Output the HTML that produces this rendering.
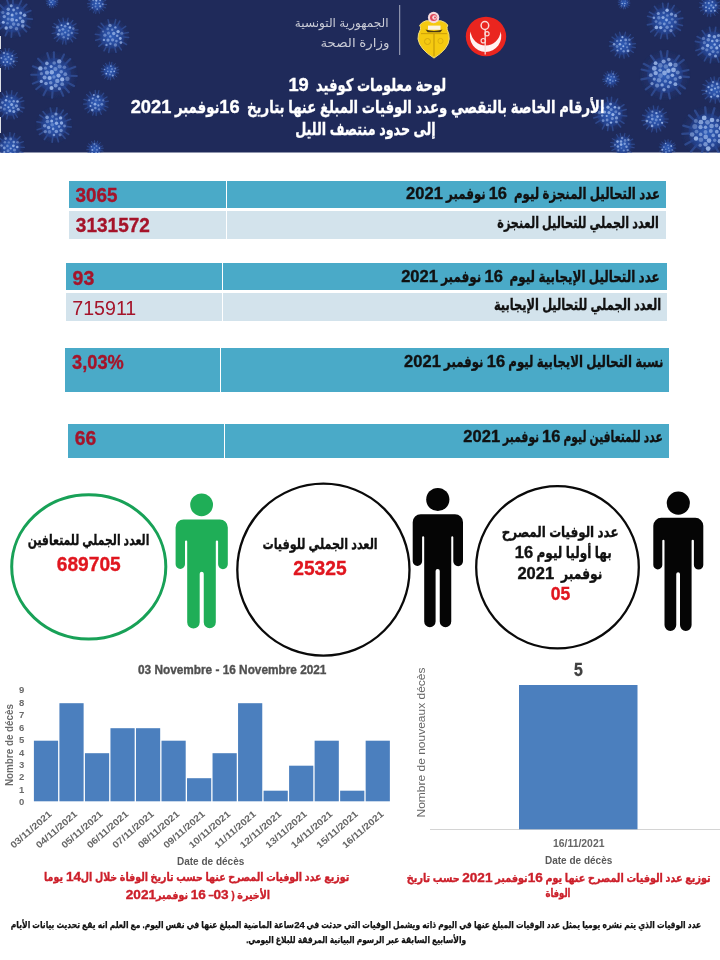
<!DOCTYPE html>
<html lang="ar">
<head>
<meta charset="utf-8">
<title>لوحة معلومات كوفيد 19</title>
<style>
html,body{margin:0;padding:0;background:#fff;}
body{width:720px;height:960px;position:relative;overflow:hidden;font-family:"Liberation Sans","DejaVu Sans",sans-serif;}
.t{position:absolute;white-space:pre;line-height:24px;height:24px;transform-origin:100% 50%;font-family:"Liberation Sans","DejaVu Sans",sans-serif;}
.d{display:inline-block;text-align:center;transform-origin:50% 50%;}
.s{-webkit-text-stroke:0.35px currentColor;}
.s2{-webkit-text-stroke:0.25px currentColor;}
.b{position:absolute;}
svg{position:absolute;left:0;top:0;}
</style>
</head>
<body>
<svg width="720" height="153" viewBox="0 0 720 153" style="top:0;left:0">
<defs>
<radialGradient id="vg"><stop offset="0" stop-color="#2a4fa3" stop-opacity=".5"/><stop offset=".6" stop-color="#27489a" stop-opacity=".3"/><stop offset="1" stop-color="#24448e" stop-opacity="0"/></radialGradient>
<radialGradient id="vb"><stop offset="0" stop-color="#3362be" stop-opacity=".9"/><stop offset=".65" stop-color="#2a50a6" stop-opacity=".85"/><stop offset="1" stop-color="#233f8a" stop-opacity=".55"/></radialGradient>
<filter id="bl" x="-5%" y="-5%" width="110%" height="110%"><feGaussianBlur stdDeviation="0.7"/></filter>
<clipPath id="hc"><rect x="0" y="0" width="720" height="152.5"/></clipPath>
</defs>
<rect x="0" y="0" width="720" height="152.5" fill="#1f2a5a"/>
<g clip-path="url(#hc)"><g filter="url(#bl)">
<circle cx="13.0" cy="18.0" r="20.8" fill="url(#vg)"/>
<line x1="7.9" y1="29.8" x2="5.4" y2="35.6" stroke="#3a5fb0" stroke-width="1.8" stroke-linecap="round" opacity=".55"/>
<line x1="3.1" y1="26.2" x2="-1.8" y2="30.2" stroke="#3a5fb0" stroke-width="1.8" stroke-linecap="round" opacity=".55"/>
<line x1="1.2" y1="22.9" x2="-4.8" y2="25.3" stroke="#3a5fb0" stroke-width="1.8" stroke-linecap="round" opacity=".55"/>
<line x1="0.2" y1="17.0" x2="-6.1" y2="16.5" stroke="#3a5fb0" stroke-width="1.8" stroke-linecap="round" opacity=".55"/>
<line x1="1.4" y1="12.5" x2="-4.4" y2="9.8" stroke="#3a5fb0" stroke-width="1.8" stroke-linecap="round" opacity=".55"/>
<line x1="3.9" y1="9.0" x2="-0.6" y2="4.4" stroke="#3a5fb0" stroke-width="1.8" stroke-linecap="round" opacity=".55"/>
<line x1="9.0" y1="5.9" x2="6.9" y2="-0.2" stroke="#3a5fb0" stroke-width="1.8" stroke-linecap="round" opacity=".55"/>
<line x1="13.0" y1="5.2" x2="12.9" y2="-1.2" stroke="#3a5fb0" stroke-width="1.8" stroke-linecap="round" opacity=".55"/>
<line x1="18.6" y1="6.5" x2="21.4" y2="0.7" stroke="#3a5fb0" stroke-width="1.8" stroke-linecap="round" opacity=".55"/>
<line x1="22.1" y1="9.0" x2="26.6" y2="4.4" stroke="#3a5fb0" stroke-width="1.8" stroke-linecap="round" opacity=".55"/>
<line x1="24.8" y1="13.2" x2="30.8" y2="10.7" stroke="#3a5fb0" stroke-width="1.8" stroke-linecap="round" opacity=".55"/>
<line x1="25.8" y1="18.7" x2="32.2" y2="19.1" stroke="#3a5fb0" stroke-width="1.8" stroke-linecap="round" opacity=".55"/>
<line x1="24.1" y1="24.3" x2="29.7" y2="27.5" stroke="#3a5fb0" stroke-width="1.8" stroke-linecap="round" opacity=".55"/>
<line x1="22.0" y1="27.1" x2="26.4" y2="31.7" stroke="#3a5fb0" stroke-width="1.8" stroke-linecap="round" opacity=".55"/>
<line x1="17.6" y1="29.9" x2="19.9" y2="35.9" stroke="#3a5fb0" stroke-width="1.8" stroke-linecap="round" opacity=".55"/>
<line x1="11.8" y1="30.7" x2="11.3" y2="37.1" stroke="#3a5fb0" stroke-width="1.8" stroke-linecap="round" opacity=".55"/>
<circle cx="13.0" cy="18.0" r="14.4" fill="url(#vb)"/>
<circle cx="12.2" cy="19.7" r="1.9" fill="#a3bdec" opacity="0.69"/>
<circle cx="12.1" cy="14.9" r="1.5" fill="#a3bdec" opacity="0.89"/>
<circle cx="16.5" cy="20.2" r="1.3" fill="#a3bdec" opacity="0.83"/>
<circle cx="8.2" cy="18.9" r="1.5" fill="#a3bdec" opacity="0.47"/>
<circle cx="16.3" cy="13.5" r="1.3" fill="#a3bdec" opacity="0.55"/>
<circle cx="13.6" cy="24.1" r="1.8" fill="#a3bdec" opacity="0.49"/>
<circle cx="8.0" cy="13.6" r="1.7" fill="#a3bdec" opacity="0.72"/>
<circle cx="20.2" cy="17.9" r="1.5" fill="#a3bdec" opacity="0.67"/>
<circle cx="7.5" cy="23.2" r="1.3" fill="#a3bdec" opacity="0.43"/>
<circle cx="13.6" cy="10.0" r="1.4" fill="#a3bdec" opacity="0.74"/>
<circle cx="18.3" cy="24.6" r="1.6" fill="#a3bdec" opacity="0.56"/>
<circle cx="4.3" cy="16.6" r="1.7" fill="#a3bdec" opacity="0.63"/>
<circle cx="20.7" cy="12.9" r="1.5" fill="#a3bdec" opacity="0.80"/>
<circle cx="10.7" cy="27.3" r="1.8" fill="#a3bdec" opacity="0.52"/>
<circle cx="8.3" cy="9.2" r="1.7" fill="#a3bdec" opacity="0.66"/>
<circle cx="22.7" cy="21.4" r="1.9" fill="#a3bdec" opacity="0.76"/>
<circle cx="3.3" cy="22.2" r="1.5" fill="#a3bdec" opacity="0.89"/>
<circle cx="17.5" cy="8.0" r="1.3" fill="#a3bdec" opacity="0.61"/>
<circle cx="16.5" cy="28.7" r="1.8" fill="#a3bdec" opacity="0.48"/>
<circle cx="2.9" cy="12.4" r="1.6" fill="#a3bdec" opacity="0.42"/>
<circle cx="24.5" cy="15.3" r="1.7" fill="#a3bdec" opacity="0.78"/>
<circle cx="6.2" cy="28.0" r="1.7" fill="#a3bdec" opacity="0.84"/>
<circle cx="11.2" cy="5.7" r="1.5" fill="#a3bdec" opacity="0.75"/>
<circle cx="22.8" cy="26.0" r="1.7" fill="#a3bdec" opacity="0.69"/>
<circle cx="65.0" cy="31.0" r="14.3" fill="url(#vg)"/>
<line x1="65.6" y1="39.8" x2="66.0" y2="44.2" stroke="#3a5fb0" stroke-width="1.2" stroke-linecap="round" opacity=".55"/>
<line x1="63.4" y1="39.6" x2="62.6" y2="44.0" stroke="#3a5fb0" stroke-width="1.2" stroke-linecap="round" opacity=".55"/>
<line x1="59.5" y1="37.9" x2="56.8" y2="41.3" stroke="#3a5fb0" stroke-width="1.2" stroke-linecap="round" opacity=".55"/>
<line x1="57.8" y1="36.0" x2="54.2" y2="38.5" stroke="#3a5fb0" stroke-width="1.2" stroke-linecap="round" opacity=".55"/>
<line x1="56.4" y1="32.6" x2="52.0" y2="33.5" stroke="#3a5fb0" stroke-width="1.2" stroke-linecap="round" opacity=".55"/>
<line x1="56.7" y1="28.2" x2="52.5" y2="26.8" stroke="#3a5fb0" stroke-width="1.2" stroke-linecap="round" opacity=".55"/>
<line x1="57.7" y1="26.1" x2="54.0" y2="23.6" stroke="#3a5fb0" stroke-width="1.2" stroke-linecap="round" opacity=".55"/>
<line x1="60.6" y1="23.4" x2="58.5" y2="19.5" stroke="#3a5fb0" stroke-width="1.2" stroke-linecap="round" opacity=".55"/>
<line x1="63.7" y1="22.3" x2="63.0" y2="18.0" stroke="#3a5fb0" stroke-width="1.2" stroke-linecap="round" opacity=".55"/>
<line x1="67.1" y1="22.4" x2="68.1" y2="18.2" stroke="#3a5fb0" stroke-width="1.2" stroke-linecap="round" opacity=".55"/>
<line x1="70.2" y1="23.9" x2="72.9" y2="20.4" stroke="#3a5fb0" stroke-width="1.2" stroke-linecap="round" opacity=".55"/>
<line x1="72.3" y1="26.1" x2="76.0" y2="23.7" stroke="#3a5fb0" stroke-width="1.2" stroke-linecap="round" opacity=".55"/>
<line x1="73.8" y1="30.2" x2="78.1" y2="29.8" stroke="#3a5fb0" stroke-width="1.2" stroke-linecap="round" opacity=".55"/>
<line x1="73.7" y1="32.6" x2="78.0" y2="33.4" stroke="#3a5fb0" stroke-width="1.2" stroke-linecap="round" opacity=".55"/>
<line x1="72.3" y1="35.9" x2="75.9" y2="38.4" stroke="#3a5fb0" stroke-width="1.2" stroke-linecap="round" opacity=".55"/>
<line x1="70.1" y1="38.2" x2="72.6" y2="41.8" stroke="#3a5fb0" stroke-width="1.2" stroke-linecap="round" opacity=".55"/>
<circle cx="65.0" cy="31.0" r="9.9" fill="url(#vb)"/>
<circle cx="65.2" cy="32.5" r="1.1" fill="#a3bdec" opacity="0.60"/>
<circle cx="62.9" cy="29.3" r="1.4" fill="#a3bdec" opacity="0.59"/>
<circle cx="68.5" cy="30.8" r="1.0" fill="#a3bdec" opacity="0.53"/>
<circle cx="62.1" cy="34.0" r="1.5" fill="#a3bdec" opacity="0.43"/>
<circle cx="65.1" cy="26.3" r="1.3" fill="#a3bdec" opacity="0.59"/>
<circle cx="68.4" cy="34.9" r="1.3" fill="#a3bdec" opacity="0.57"/>
<circle cx="59.4" cy="30.4" r="1.3" fill="#a3bdec" opacity="0.65"/>
<circle cx="69.9" cy="27.5" r="1.3" fill="#a3bdec" opacity="0.85"/>
<circle cx="63.7" cy="37.3" r="1.2" fill="#a3bdec" opacity="0.47"/>
<circle cx="61.5" cy="25.2" r="1.0" fill="#a3bdec" opacity="0.87"/>
<circle cx="71.8" cy="33.0" r="1.2" fill="#a3bdec" opacity="0.50"/>
<circle cx="58.3" cy="34.3" r="1.4" fill="#a3bdec" opacity="0.69"/>
<circle cx="67.9" cy="23.8" r="1.3" fill="#a3bdec" opacity="0.84"/>
<circle cx="67.9" cy="38.6" r="1.1" fill="#a3bdec" opacity="0.58"/>
<circle cx="57.5" cy="27.2" r="1.4" fill="#a3bdec" opacity="0.47"/>
<circle cx="73.3" cy="28.6" r="1.3" fill="#a3bdec" opacity="0.45"/>
<circle cx="112.0" cy="36.0" r="18.2" fill="url(#vg)"/>
<line x1="101.2" y1="38.8" x2="95.7" y2="40.2" stroke="#3a5fb0" stroke-width="1.5" stroke-linecap="round" opacity=".55"/>
<line x1="100.9" y1="34.9" x2="95.3" y2="34.3" stroke="#3a5fb0" stroke-width="1.5" stroke-linecap="round" opacity=".55"/>
<line x1="102.8" y1="29.6" x2="98.2" y2="26.4" stroke="#3a5fb0" stroke-width="1.5" stroke-linecap="round" opacity=".55"/>
<line x1="104.7" y1="27.5" x2="101.1" y2="23.2" stroke="#3a5fb0" stroke-width="1.5" stroke-linecap="round" opacity=".55"/>
<line x1="109.4" y1="25.1" x2="108.1" y2="19.7" stroke="#3a5fb0" stroke-width="1.5" stroke-linecap="round" opacity=".55"/>
<line x1="114.5" y1="25.1" x2="115.7" y2="19.6" stroke="#3a5fb0" stroke-width="1.5" stroke-linecap="round" opacity=".55"/>
<line x1="117.2" y1="26.1" x2="119.8" y2="21.1" stroke="#3a5fb0" stroke-width="1.5" stroke-linecap="round" opacity=".55"/>
<line x1="121.1" y1="29.5" x2="125.7" y2="26.3" stroke="#3a5fb0" stroke-width="1.5" stroke-linecap="round" opacity=".55"/>
<line x1="122.9" y1="33.6" x2="128.4" y2="32.4" stroke="#3a5fb0" stroke-width="1.5" stroke-linecap="round" opacity=".55"/>
<line x1="123.2" y1="37.0" x2="128.7" y2="37.4" stroke="#3a5fb0" stroke-width="1.5" stroke-linecap="round" opacity=".55"/>
<line x1="121.7" y1="41.7" x2="126.5" y2="44.5" stroke="#3a5fb0" stroke-width="1.5" stroke-linecap="round" opacity=".55"/>
<line x1="118.3" y1="45.3" x2="121.4" y2="49.9" stroke="#3a5fb0" stroke-width="1.5" stroke-linecap="round" opacity=".55"/>
<line x1="114.7" y1="46.9" x2="116.0" y2="52.3" stroke="#3a5fb0" stroke-width="1.5" stroke-linecap="round" opacity=".55"/>
<line x1="109.8" y1="47.0" x2="108.7" y2="52.5" stroke="#3a5fb0" stroke-width="1.5" stroke-linecap="round" opacity=".55"/>
<line x1="106.7" y1="45.8" x2="104.0" y2="50.8" stroke="#3a5fb0" stroke-width="1.5" stroke-linecap="round" opacity=".55"/>
<line x1="103.2" y1="42.9" x2="98.8" y2="46.4" stroke="#3a5fb0" stroke-width="1.5" stroke-linecap="round" opacity=".55"/>
<circle cx="112.0" cy="36.0" r="12.6" fill="url(#vb)"/>
<circle cx="110.3" cy="36.4" r="1.2" fill="#a3bdec" opacity="0.65"/>
<circle cx="113.7" cy="33.5" r="1.7" fill="#a3bdec" opacity="0.70"/>
<circle cx="112.6" cy="39.8" r="1.6" fill="#a3bdec" opacity="0.59"/>
<circle cx="108.5" cy="33.1" r="1.6" fill="#a3bdec" opacity="0.45"/>
<circle cx="117.2" cy="35.7" r="1.3" fill="#a3bdec" opacity="0.74"/>
<circle cx="108.0" cy="40.1" r="1.6" fill="#a3bdec" opacity="0.61"/>
<circle cx="112.2" cy="29.8" r="1.2" fill="#a3bdec" opacity="0.53"/>
<circle cx="116.4" cy="41.1" r="1.3" fill="#a3bdec" opacity="0.54"/>
<circle cx="104.9" cy="35.2" r="1.6" fill="#a3bdec" opacity="0.50"/>
<circle cx="118.1" cy="31.6" r="1.7" fill="#a3bdec" opacity="0.84"/>
<circle cx="110.4" cy="43.8" r="1.2" fill="#a3bdec" opacity="0.59"/>
<circle cx="107.8" cy="28.9" r="1.4" fill="#a3bdec" opacity="0.41"/>
<circle cx="120.3" cy="38.5" r="1.4" fill="#a3bdec" opacity="0.85"/>
<circle cx="103.9" cy="39.9" r="1.2" fill="#a3bdec" opacity="0.70"/>
<circle cx="115.4" cy="27.4" r="1.2" fill="#a3bdec" opacity="0.69"/>
<circle cx="115.4" cy="45.0" r="1.7" fill="#a3bdec" opacity="0.50"/>
<circle cx="103.1" cy="31.5" r="1.1" fill="#a3bdec" opacity="0.44"/>
<circle cx="121.8" cy="33.2" r="1.5" fill="#a3bdec" opacity="0.41"/>
<circle cx="106.5" cy="44.9" r="1.2" fill="#a3bdec" opacity="0.65"/>
<circle cx="110.0" cy="25.4" r="1.7" fill="#a3bdec" opacity="0.61"/>
<circle cx="120.9" cy="42.6" r="1.4" fill="#a3bdec" opacity="0.72"/>
<circle cx="97.0" cy="4.0" r="10.4" fill="url(#vg)"/>
<line x1="91.2" y1="1.3" x2="88.3" y2="-0.0" stroke="#3a5fb0" stroke-width="1.0" stroke-linecap="round" opacity=".55"/>
<line x1="92.8" y1="-0.8" x2="90.7" y2="-3.2" stroke="#3a5fb0" stroke-width="1.0" stroke-linecap="round" opacity=".55"/>
<line x1="94.6" y1="-1.9" x2="93.4" y2="-4.9" stroke="#3a5fb0" stroke-width="1.0" stroke-linecap="round" opacity=".55"/>
<line x1="97.7" y1="-2.4" x2="98.0" y2="-5.5" stroke="#3a5fb0" stroke-width="1.0" stroke-linecap="round" opacity=".55"/>
<line x1="100.1" y1="-1.6" x2="101.6" y2="-4.4" stroke="#3a5fb0" stroke-width="1.0" stroke-linecap="round" opacity=".55"/>
<line x1="101.9" y1="-0.2" x2="104.3" y2="-2.2" stroke="#3a5fb0" stroke-width="1.0" stroke-linecap="round" opacity=".55"/>
<line x1="102.9" y1="1.5" x2="105.9" y2="0.3" stroke="#3a5fb0" stroke-width="1.0" stroke-linecap="round" opacity=".55"/>
<line x1="103.4" y1="4.4" x2="106.6" y2="4.6" stroke="#3a5fb0" stroke-width="1.0" stroke-linecap="round" opacity=".55"/>
<line x1="102.8" y1="6.6" x2="105.8" y2="7.9" stroke="#3a5fb0" stroke-width="1.0" stroke-linecap="round" opacity=".55"/>
<line x1="101.5" y1="8.6" x2="103.7" y2="10.9" stroke="#3a5fb0" stroke-width="1.0" stroke-linecap="round" opacity=".55"/>
<line x1="98.7" y1="10.2" x2="99.5" y2="13.3" stroke="#3a5fb0" stroke-width="1.0" stroke-linecap="round" opacity=".55"/>
<line x1="96.1" y1="10.3" x2="95.7" y2="13.5" stroke="#3a5fb0" stroke-width="1.0" stroke-linecap="round" opacity=".55"/>
<line x1="94.7" y1="10.0" x2="93.5" y2="12.9" stroke="#3a5fb0" stroke-width="1.0" stroke-linecap="round" opacity=".55"/>
<line x1="92.0" y1="8.0" x2="89.5" y2="10.0" stroke="#3a5fb0" stroke-width="1.0" stroke-linecap="round" opacity=".55"/>
<line x1="90.9" y1="6.0" x2="87.9" y2="7.0" stroke="#3a5fb0" stroke-width="1.0" stroke-linecap="round" opacity=".55"/>
<line x1="90.6" y1="3.8" x2="87.4" y2="3.7" stroke="#3a5fb0" stroke-width="1.0" stroke-linecap="round" opacity=".55"/>
<circle cx="97.0" cy="4.0" r="7.2" fill="url(#vb)"/>
<circle cx="95.8" cy="3.4" r="0.9" fill="#a3bdec" opacity="0.74"/>
<circle cx="99.2" cy="3.3" r="0.9" fill="#a3bdec" opacity="0.74"/>
<circle cx="95.5" cy="6.5" r="1.0" fill="#a3bdec" opacity="0.47"/>
<circle cx="96.3" cy="0.6" r="1.1" fill="#a3bdec" opacity="0.89"/>
<circle cx="100.2" cy="6.3" r="1.1" fill="#a3bdec" opacity="0.71"/>
<circle cx="92.7" cy="4.5" r="0.8" fill="#a3bdec" opacity="0.40"/>
<circle cx="100.1" cy="0.4" r="0.8" fill="#a3bdec" opacity="0.87"/>
<circle cx="97.2" cy="9.1" r="0.9" fill="#a3bdec" opacity="0.58"/>
<circle cx="93.2" cy="0.1" r="1.1" fill="#a3bdec" opacity="0.56"/>
<circle cx="102.7" cy="4.3" r="1.0" fill="#a3bdec" opacity="0.62"/>
<circle cx="92.4" cy="7.8" r="0.8" fill="#a3bdec" opacity="0.69"/>
<circle cx="97.9" cy="-2.2" r="1.1" fill="#a3bdec" opacity="0.48"/>
<circle cx="52.0" cy="2.0" r="6.5" fill="url(#vg)"/>
<line x1="48.2" y1="3.1" x2="46.3" y2="3.7" stroke="#3a5fb0" stroke-width="1.0" stroke-linecap="round" opacity=".55"/>
<line x1="48.1" y1="1.4" x2="46.1" y2="1.0" stroke="#3a5fb0" stroke-width="1.0" stroke-linecap="round" opacity=".55"/>
<line x1="48.5" y1="0.2" x2="46.7" y2="-0.8" stroke="#3a5fb0" stroke-width="1.0" stroke-linecap="round" opacity=".55"/>
<line x1="49.4" y1="-1.1" x2="48.2" y2="-2.6" stroke="#3a5fb0" stroke-width="1.0" stroke-linecap="round" opacity=".55"/>
<line x1="50.9" y1="-1.8" x2="50.3" y2="-3.8" stroke="#3a5fb0" stroke-width="1.0" stroke-linecap="round" opacity=".55"/>
<line x1="52.2" y1="-2.0" x2="52.2" y2="-4.0" stroke="#3a5fb0" stroke-width="1.0" stroke-linecap="round" opacity=".55"/>
<line x1="53.9" y1="-1.5" x2="54.8" y2="-3.3" stroke="#3a5fb0" stroke-width="1.0" stroke-linecap="round" opacity=".55"/>
<line x1="55.1" y1="-0.5" x2="56.7" y2="-1.7" stroke="#3a5fb0" stroke-width="1.0" stroke-linecap="round" opacity=".55"/>
<line x1="55.9" y1="1.0" x2="57.8" y2="0.5" stroke="#3a5fb0" stroke-width="1.0" stroke-linecap="round" opacity=".55"/>
<line x1="56.0" y1="2.1" x2="58.0" y2="2.2" stroke="#3a5fb0" stroke-width="1.0" stroke-linecap="round" opacity=".55"/>
<line x1="55.6" y1="3.8" x2="57.4" y2="4.6" stroke="#3a5fb0" stroke-width="1.0" stroke-linecap="round" opacity=".55"/>
<line x1="54.8" y1="4.9" x2="56.1" y2="6.4" stroke="#3a5fb0" stroke-width="1.0" stroke-linecap="round" opacity=".55"/>
<line x1="53.0" y1="5.9" x2="53.5" y2="7.8" stroke="#3a5fb0" stroke-width="1.0" stroke-linecap="round" opacity=".55"/>
<line x1="51.5" y1="6.0" x2="51.3" y2="8.0" stroke="#3a5fb0" stroke-width="1.0" stroke-linecap="round" opacity=".55"/>
<line x1="50.4" y1="5.7" x2="49.6" y2="7.5" stroke="#3a5fb0" stroke-width="1.0" stroke-linecap="round" opacity=".55"/>
<line x1="48.7" y1="4.3" x2="47.1" y2="5.5" stroke="#3a5fb0" stroke-width="1.0" stroke-linecap="round" opacity=".55"/>
<circle cx="52.0" cy="2.0" r="4.5" fill="url(#vb)"/>
<circle cx="51.0" cy="2.3" r="0.8" fill="#a3bdec" opacity="0.73"/>
<circle cx="52.9" cy="0.4" r="0.7" fill="#a3bdec" opacity="0.48"/>
<circle cx="52.5" cy="4.3" r="0.6" fill="#a3bdec" opacity="0.66"/>
<circle cx="49.7" cy="0.4" r="0.6" fill="#a3bdec" opacity="0.50"/>
<circle cx="55.2" cy="1.6" r="0.7" fill="#a3bdec" opacity="0.42"/>
<circle cx="49.7" cy="4.7" r="0.7" fill="#a3bdec" opacity="0.62"/>
<circle cx="51.9" cy="-1.9" r="0.8" fill="#a3bdec" opacity="0.66"/>
<circle cx="7.0" cy="59.0" r="11.7" fill="url(#vg)"/>
<line x1="-0.1" y1="60.0" x2="-3.7" y2="60.5" stroke="#3a5fb0" stroke-width="1.0" stroke-linecap="round" opacity=".55"/>
<line x1="0.0" y1="57.2" x2="-3.4" y2="56.2" stroke="#3a5fb0" stroke-width="1.0" stroke-linecap="round" opacity=".55"/>
<line x1="0.9" y1="55.1" x2="-2.1" y2="53.2" stroke="#3a5fb0" stroke-width="1.0" stroke-linecap="round" opacity=".55"/>
<line x1="2.7" y1="53.2" x2="0.6" y2="50.3" stroke="#3a5fb0" stroke-width="1.0" stroke-linecap="round" opacity=".55"/>
<line x1="5.7" y1="51.9" x2="5.1" y2="48.4" stroke="#3a5fb0" stroke-width="1.0" stroke-linecap="round" opacity=".55"/>
<line x1="8.4" y1="51.9" x2="9.1" y2="48.4" stroke="#3a5fb0" stroke-width="1.0" stroke-linecap="round" opacity=".55"/>
<line x1="11.5" y1="53.4" x2="13.7" y2="50.6" stroke="#3a5fb0" stroke-width="1.0" stroke-linecap="round" opacity=".55"/>
<line x1="13.2" y1="55.4" x2="16.4" y2="53.6" stroke="#3a5fb0" stroke-width="1.0" stroke-linecap="round" opacity=".55"/>
<line x1="14.1" y1="58.0" x2="17.7" y2="57.4" stroke="#3a5fb0" stroke-width="1.0" stroke-linecap="round" opacity=".55"/>
<line x1="14.0" y1="60.7" x2="17.5" y2="61.6" stroke="#3a5fb0" stroke-width="1.0" stroke-linecap="round" opacity=".55"/>
<line x1="12.7" y1="63.4" x2="15.6" y2="65.5" stroke="#3a5fb0" stroke-width="1.0" stroke-linecap="round" opacity=".55"/>
<line x1="11.1" y1="64.9" x2="13.2" y2="67.8" stroke="#3a5fb0" stroke-width="1.0" stroke-linecap="round" opacity=".55"/>
<line x1="8.2" y1="66.1" x2="8.8" y2="69.6" stroke="#3a5fb0" stroke-width="1.0" stroke-linecap="round" opacity=".55"/>
<line x1="5.7" y1="66.1" x2="5.1" y2="69.6" stroke="#3a5fb0" stroke-width="1.0" stroke-linecap="round" opacity=".55"/>
<line x1="2.4" y1="64.6" x2="0.1" y2="67.3" stroke="#3a5fb0" stroke-width="1.0" stroke-linecap="round" opacity=".55"/>
<line x1="1.2" y1="63.2" x2="-1.8" y2="65.3" stroke="#3a5fb0" stroke-width="1.0" stroke-linecap="round" opacity=".55"/>
<circle cx="7.0" cy="59.0" r="8.1" fill="url(#vb)"/>
<circle cx="5.6" cy="59.2" r="1.2" fill="#a3bdec" opacity="0.44"/>
<circle cx="8.5" cy="57.1" r="1.1" fill="#a3bdec" opacity="0.57"/>
<circle cx="7.2" cy="62.1" r="1.0" fill="#a3bdec" opacity="0.82"/>
<circle cx="4.3" cy="56.4" r="0.8" fill="#a3bdec" opacity="0.43"/>
<circle cx="11.2" cy="59.1" r="1.2" fill="#a3bdec" opacity="0.65"/>
<circle cx="3.5" cy="62.1" r="0.9" fill="#a3bdec" opacity="0.89"/>
<circle cx="7.5" cy="53.9" r="1.2" fill="#a3bdec" opacity="0.46"/>
<circle cx="10.3" cy="63.4" r="1.0" fill="#a3bdec" opacity="0.47"/>
<circle cx="1.3" cy="57.9" r="1.0" fill="#a3bdec" opacity="0.71"/>
<circle cx="12.2" cy="55.8" r="0.9" fill="#a3bdec" opacity="0.75"/>
<circle cx="5.2" cy="65.2" r="0.9" fill="#a3bdec" opacity="0.49"/>
<circle cx="4.0" cy="52.9" r="1.2" fill="#a3bdec" opacity="0.60"/>
<circle cx="13.6" cy="61.5" r="1.0" fill="#a3bdec" opacity="0.70"/>
<circle cx="54.0" cy="75.0" r="24.7" fill="url(#vg)"/>
<line x1="52.7" y1="90.1" x2="52.1" y2="97.7" stroke="#3a5fb0" stroke-width="2.1" stroke-linecap="round" opacity=".55"/>
<line x1="47.0" y1="88.5" x2="43.5" y2="95.2" stroke="#3a5fb0" stroke-width="2.1" stroke-linecap="round" opacity=".55"/>
<line x1="42.1" y1="84.5" x2="36.2" y2="89.2" stroke="#3a5fb0" stroke-width="2.1" stroke-linecap="round" opacity=".55"/>
<line x1="39.9" y1="80.7" x2="32.9" y2="83.6" stroke="#3a5fb0" stroke-width="2.1" stroke-linecap="round" opacity=".55"/>
<line x1="38.8" y1="74.8" x2="31.2" y2="74.7" stroke="#3a5fb0" stroke-width="2.1" stroke-linecap="round" opacity=".55"/>
<line x1="40.0" y1="69.2" x2="32.9" y2="66.3" stroke="#3a5fb0" stroke-width="2.1" stroke-linecap="round" opacity=".55"/>
<line x1="43.4" y1="64.1" x2="38.1" y2="58.7" stroke="#3a5fb0" stroke-width="2.1" stroke-linecap="round" opacity=".55"/>
<line x1="49.5" y1="60.5" x2="47.3" y2="53.2" stroke="#3a5fb0" stroke-width="2.1" stroke-linecap="round" opacity=".55"/>
<line x1="53.9" y1="59.8" x2="53.9" y2="52.2" stroke="#3a5fb0" stroke-width="2.1" stroke-linecap="round" opacity=".55"/>
<line x1="60.7" y1="61.3" x2="64.0" y2="54.5" stroke="#3a5fb0" stroke-width="2.1" stroke-linecap="round" opacity=".55"/>
<line x1="64.9" y1="64.4" x2="70.3" y2="59.0" stroke="#3a5fb0" stroke-width="2.1" stroke-linecap="round" opacity=".55"/>
<line x1="68.2" y1="69.5" x2="75.3" y2="66.8" stroke="#3a5fb0" stroke-width="2.1" stroke-linecap="round" opacity=".55"/>
<line x1="69.2" y1="75.7" x2="76.8" y2="76.0" stroke="#3a5fb0" stroke-width="2.1" stroke-linecap="round" opacity=".55"/>
<line x1="67.3" y1="82.3" x2="74.0" y2="86.0" stroke="#3a5fb0" stroke-width="2.1" stroke-linecap="round" opacity=".55"/>
<line x1="63.9" y1="86.5" x2="68.9" y2="92.3" stroke="#3a5fb0" stroke-width="2.1" stroke-linecap="round" opacity=".55"/>
<line x1="60.1" y1="88.9" x2="63.2" y2="95.9" stroke="#3a5fb0" stroke-width="2.1" stroke-linecap="round" opacity=".55"/>
<circle cx="54.0" cy="75.0" r="17.1" fill="url(#vb)"/>
<circle cx="53.9" cy="77.0" r="1.7" fill="#a3bdec" opacity="0.47"/>
<circle cx="51.8" cy="72.3" r="2.2" fill="#a3bdec" opacity="0.80"/>
<circle cx="58.5" cy="75.6" r="2.1" fill="#a3bdec" opacity="0.81"/>
<circle cx="49.6" cy="78.0" r="2.1" fill="#a3bdec" opacity="0.87"/>
<circle cx="55.4" cy="69.1" r="2.1" fill="#a3bdec" opacity="0.53"/>
<circle cx="57.3" cy="80.9" r="2.2" fill="#a3bdec" opacity="0.64"/>
<circle cx="47.0" cy="72.7" r="2.1" fill="#a3bdec" opacity="0.68"/>
<circle cx="61.2" cy="71.8" r="1.8" fill="#a3bdec" opacity="0.58"/>
<circle cx="50.7" cy="82.7" r="1.8" fill="#a3bdec" opacity="0.56"/>
<circle cx="51.1" cy="66.6" r="1.5" fill="#a3bdec" opacity="0.81"/>
<circle cx="62.2" cy="79.4" r="2.1" fill="#a3bdec" opacity="0.89"/>
<circle cx="44.6" cy="77.4" r="2.0" fill="#a3bdec" opacity="0.68"/>
<circle cx="59.6" cy="66.5" r="2.1" fill="#a3bdec" opacity="0.47"/>
<circle cx="55.7" cy="85.4" r="2.0" fill="#a3bdec" opacity="0.62"/>
<circle cx="45.4" cy="68.2" r="1.6" fill="#a3bdec" opacity="0.50"/>
<circle cx="65.3" cy="74.2" r="1.9" fill="#a3bdec" opacity="0.53"/>
<circle cx="46.0" cy="83.5" r="1.8" fill="#a3bdec" opacity="0.70"/>
<circle cx="54.2" cy="63.0" r="1.8" fill="#a3bdec" opacity="0.47"/>
<circle cx="62.2" cy="84.2" r="1.9" fill="#a3bdec" opacity="0.52"/>
<circle cx="41.4" cy="73.7" r="1.6" fill="#a3bdec" opacity="0.50"/>
<circle cx="64.4" cy="67.2" r="1.8" fill="#a3bdec" opacity="0.44"/>
<circle cx="51.5" cy="88.1" r="2.0" fill="#a3bdec" opacity="0.88"/>
<circle cx="46.9" cy="63.4" r="1.8" fill="#a3bdec" opacity="0.76"/>
<circle cx="67.4" cy="78.8" r="2.2" fill="#a3bdec" opacity="0.42"/>
<circle cx="41.3" cy="81.4" r="1.6" fill="#a3bdec" opacity="0.80"/>
<circle cx="59.2" cy="61.4" r="2.2" fill="#a3bdec" opacity="0.72"/>
<circle cx="59.4" cy="88.7" r="1.6" fill="#a3bdec" opacity="0.61"/>
<circle cx="40.4" cy="68.4" r="2.2" fill="#a3bdec" opacity="0.84"/>
<circle cx="110.0" cy="71.0" r="9.8" fill="url(#vg)"/>
<line x1="114.6" y1="74.9" x2="116.9" y2="76.8" stroke="#3a5fb0" stroke-width="1.0" stroke-linecap="round" opacity=".55"/>
<line x1="112.8" y1="76.3" x2="114.2" y2="79.0" stroke="#3a5fb0" stroke-width="1.0" stroke-linecap="round" opacity=".55"/>
<line x1="110.3" y1="77.0" x2="110.4" y2="80.0" stroke="#3a5fb0" stroke-width="1.0" stroke-linecap="round" opacity=".55"/>
<line x1="108.6" y1="76.8" x2="107.8" y2="79.7" stroke="#3a5fb0" stroke-width="1.0" stroke-linecap="round" opacity=".55"/>
<line x1="106.5" y1="75.8" x2="104.7" y2="78.3" stroke="#3a5fb0" stroke-width="1.0" stroke-linecap="round" opacity=".55"/>
<line x1="104.6" y1="73.7" x2="102.0" y2="75.1" stroke="#3a5fb0" stroke-width="1.0" stroke-linecap="round" opacity=".55"/>
<line x1="104.0" y1="71.5" x2="101.0" y2="71.8" stroke="#3a5fb0" stroke-width="1.0" stroke-linecap="round" opacity=".55"/>
<line x1="104.2" y1="69.5" x2="101.3" y2="68.8" stroke="#3a5fb0" stroke-width="1.0" stroke-linecap="round" opacity=".55"/>
<line x1="105.4" y1="67.1" x2="103.1" y2="65.2" stroke="#3a5fb0" stroke-width="1.0" stroke-linecap="round" opacity=".55"/>
<line x1="107.0" y1="65.8" x2="105.5" y2="63.2" stroke="#3a5fb0" stroke-width="1.0" stroke-linecap="round" opacity=".55"/>
<line x1="109.6" y1="65.0" x2="109.4" y2="62.0" stroke="#3a5fb0" stroke-width="1.0" stroke-linecap="round" opacity=".55"/>
<line x1="111.3" y1="65.1" x2="111.9" y2="62.2" stroke="#3a5fb0" stroke-width="1.0" stroke-linecap="round" opacity=".55"/>
<line x1="113.5" y1="66.1" x2="115.3" y2="63.7" stroke="#3a5fb0" stroke-width="1.0" stroke-linecap="round" opacity=".55"/>
<line x1="115.4" y1="68.4" x2="118.1" y2="67.1" stroke="#3a5fb0" stroke-width="1.0" stroke-linecap="round" opacity=".55"/>
<line x1="115.9" y1="70.2" x2="118.9" y2="69.8" stroke="#3a5fb0" stroke-width="1.0" stroke-linecap="round" opacity=".55"/>
<line x1="115.8" y1="72.4" x2="118.7" y2="73.1" stroke="#3a5fb0" stroke-width="1.0" stroke-linecap="round" opacity=".55"/>
<circle cx="110.0" cy="71.0" r="6.8" fill="url(#vb)"/>
<circle cx="111.0" cy="71.8" r="1.0" fill="#a3bdec" opacity="0.72"/>
<circle cx="107.8" cy="71.2" r="0.8" fill="#a3bdec" opacity="0.68"/>
<circle cx="112.0" cy="68.9" r="1.0" fill="#a3bdec" opacity="0.48"/>
<circle cx="109.9" cy="74.4" r="1.0" fill="#a3bdec" opacity="0.46"/>
<circle cx="107.5" cy="68.1" r="0.9" fill="#a3bdec" opacity="0.44"/>
<circle cx="114.2" cy="71.4" r="0.8" fill="#a3bdec" opacity="0.89"/>
<circle cx="106.3" cy="73.7" r="0.9" fill="#a3bdec" opacity="0.90"/>
<circle cx="110.9" cy="66.1" r="0.9" fill="#a3bdec" opacity="0.70"/>
<circle cx="112.8" cy="75.5" r="1.0" fill="#a3bdec" opacity="0.74"/>
<circle cx="104.6" cy="69.5" r="0.8" fill="#a3bdec" opacity="0.69"/>
<circle cx="115.2" cy="68.4" r="1.0" fill="#a3bdec" opacity="0.49"/>
<circle cx="10.0" cy="105.0" r="15.6" fill="url(#vg)"/>
<line x1="19.2" y1="102.2" x2="23.8" y2="100.8" stroke="#3a5fb0" stroke-width="1.3" stroke-linecap="round" opacity=".55"/>
<line x1="19.4" y1="107.0" x2="24.1" y2="108.0" stroke="#3a5fb0" stroke-width="1.3" stroke-linecap="round" opacity=".55"/>
<line x1="18.4" y1="109.7" x2="22.6" y2="112.0" stroke="#3a5fb0" stroke-width="1.3" stroke-linecap="round" opacity=".55"/>
<line x1="14.9" y1="113.3" x2="17.4" y2="117.4" stroke="#3a5fb0" stroke-width="1.3" stroke-linecap="round" opacity=".55"/>
<line x1="12.8" y1="114.2" x2="14.2" y2="118.8" stroke="#3a5fb0" stroke-width="1.3" stroke-linecap="round" opacity=".55"/>
<line x1="7.8" y1="114.3" x2="6.7" y2="119.0" stroke="#3a5fb0" stroke-width="1.3" stroke-linecap="round" opacity=".55"/>
<line x1="4.6" y1="113.0" x2="2.0" y2="116.9" stroke="#3a5fb0" stroke-width="1.3" stroke-linecap="round" opacity=".55"/>
<line x1="1.9" y1="110.1" x2="-2.2" y2="112.6" stroke="#3a5fb0" stroke-width="1.3" stroke-linecap="round" opacity=".55"/>
<line x1="0.5" y1="106.4" x2="-4.3" y2="107.0" stroke="#3a5fb0" stroke-width="1.3" stroke-linecap="round" opacity=".55"/>
<line x1="0.5" y1="103.8" x2="-4.3" y2="103.1" stroke="#3a5fb0" stroke-width="1.3" stroke-linecap="round" opacity=".55"/>
<line x1="1.8" y1="100.1" x2="-2.4" y2="97.6" stroke="#3a5fb0" stroke-width="1.3" stroke-linecap="round" opacity=".55"/>
<line x1="4.7" y1="97.0" x2="2.1" y2="93.0" stroke="#3a5fb0" stroke-width="1.3" stroke-linecap="round" opacity=".55"/>
<line x1="7.6" y1="95.7" x2="6.3" y2="91.1" stroke="#3a5fb0" stroke-width="1.3" stroke-linecap="round" opacity=".55"/>
<line x1="11.3" y1="95.5" x2="11.9" y2="90.7" stroke="#3a5fb0" stroke-width="1.3" stroke-linecap="round" opacity=".55"/>
<line x1="14.8" y1="96.7" x2="17.2" y2="92.5" stroke="#3a5fb0" stroke-width="1.3" stroke-linecap="round" opacity=".55"/>
<line x1="18.1" y1="99.9" x2="22.2" y2="97.4" stroke="#3a5fb0" stroke-width="1.3" stroke-linecap="round" opacity=".55"/>
<circle cx="10.0" cy="105.0" r="10.8" fill="url(#vb)"/>
<circle cx="11.6" cy="104.6" r="1.5" fill="#a3bdec" opacity="0.80"/>
<circle cx="8.4" cy="107.3" r="1.1" fill="#a3bdec" opacity="0.86"/>
<circle cx="9.5" cy="101.5" r="1.3" fill="#a3bdec" opacity="0.52"/>
<circle cx="13.3" cy="107.7" r="1.3" fill="#a3bdec" opacity="0.61"/>
<circle cx="5.2" cy="105.2" r="1.1" fill="#a3bdec" opacity="0.68"/>
<circle cx="13.7" cy="101.2" r="1.2" fill="#a3bdec" opacity="0.68"/>
<circle cx="9.8" cy="110.8" r="1.5" fill="#a3bdec" opacity="0.72"/>
<circle cx="6.0" cy="100.3" r="1.2" fill="#a3bdec" opacity="0.83"/>
<circle cx="16.5" cy="105.8" r="1.6" fill="#a3bdec" opacity="0.65"/>
<circle cx="4.3" cy="109.0" r="1.5" fill="#a3bdec" opacity="0.41"/>
<circle cx="11.6" cy="97.8" r="1.1" fill="#a3bdec" opacity="0.49"/>
<circle cx="13.8" cy="111.6" r="1.5" fill="#a3bdec" opacity="0.75"/>
<circle cx="2.4" cy="102.6" r="1.4" fill="#a3bdec" opacity="0.54"/>
<circle cx="17.5" cy="101.5" r="1.3" fill="#a3bdec" opacity="0.84"/>
<circle cx="6.7" cy="113.0" r="1.1" fill="#a3bdec" opacity="0.46"/>
<circle cx="6.9" cy="96.6" r="1.0" fill="#a3bdec" opacity="0.63"/>
<circle cx="18.2" cy="109.2" r="1.5" fill="#a3bdec" opacity="0.68"/>
<circle cx="0.9" cy="107.5" r="1.2" fill="#a3bdec" opacity="0.65"/>
<circle cx="96.0" cy="103.0" r="13.7" fill="url(#vg)"/>
<line x1="90.6" y1="109.4" x2="87.9" y2="112.7" stroke="#3a5fb0" stroke-width="1.2" stroke-linecap="round" opacity=".55"/>
<line x1="88.6" y1="107.0" x2="84.9" y2="109.0" stroke="#3a5fb0" stroke-width="1.2" stroke-linecap="round" opacity=".55"/>
<line x1="87.6" y1="103.8" x2="83.5" y2="104.2" stroke="#3a5fb0" stroke-width="1.2" stroke-linecap="round" opacity=".55"/>
<line x1="88.0" y1="100.6" x2="83.9" y2="99.4" stroke="#3a5fb0" stroke-width="1.2" stroke-linecap="round" opacity=".55"/>
<line x1="89.7" y1="97.4" x2="86.6" y2="94.6" stroke="#3a5fb0" stroke-width="1.2" stroke-linecap="round" opacity=".55"/>
<line x1="91.8" y1="95.7" x2="89.8" y2="92.0" stroke="#3a5fb0" stroke-width="1.2" stroke-linecap="round" opacity=".55"/>
<line x1="95.5" y1="94.6" x2="95.2" y2="90.4" stroke="#3a5fb0" stroke-width="1.2" stroke-linecap="round" opacity=".55"/>
<line x1="97.9" y1="94.8" x2="98.9" y2="90.7" stroke="#3a5fb0" stroke-width="1.2" stroke-linecap="round" opacity=".55"/>
<line x1="101.2" y1="96.4" x2="103.8" y2="93.1" stroke="#3a5fb0" stroke-width="1.2" stroke-linecap="round" opacity=".55"/>
<line x1="103.4" y1="98.9" x2="107.0" y2="96.9" stroke="#3a5fb0" stroke-width="1.2" stroke-linecap="round" opacity=".55"/>
<line x1="104.3" y1="101.8" x2="108.5" y2="101.2" stroke="#3a5fb0" stroke-width="1.2" stroke-linecap="round" opacity=".55"/>
<line x1="103.9" y1="105.8" x2="107.9" y2="107.3" stroke="#3a5fb0" stroke-width="1.2" stroke-linecap="round" opacity=".55"/>
<line x1="102.6" y1="108.2" x2="105.9" y2="110.8" stroke="#3a5fb0" stroke-width="1.2" stroke-linecap="round" opacity=".55"/>
<line x1="99.5" y1="110.6" x2="101.3" y2="114.4" stroke="#3a5fb0" stroke-width="1.2" stroke-linecap="round" opacity=".55"/>
<line x1="96.1" y1="111.4" x2="96.2" y2="115.6" stroke="#3a5fb0" stroke-width="1.2" stroke-linecap="round" opacity=".55"/>
<line x1="93.8" y1="111.1" x2="92.7" y2="115.2" stroke="#3a5fb0" stroke-width="1.2" stroke-linecap="round" opacity=".55"/>
<circle cx="96.0" cy="103.0" r="9.5" fill="url(#vb)"/>
<circle cx="95.0" cy="104.2" r="1.4" fill="#a3bdec" opacity="0.80"/>
<circle cx="95.9" cy="100.3" r="1.2" fill="#a3bdec" opacity="0.41"/>
<circle cx="98.4" cy="105.4" r="1.1" fill="#a3bdec" opacity="0.71"/>
<circle cx="91.9" cy="102.8" r="1.1" fill="#a3bdec" opacity="0.51"/>
<circle cx="99.5" cy="100.0" r="1.1" fill="#a3bdec" opacity="0.53"/>
<circle cx="95.3" cy="108.0" r="1.3" fill="#a3bdec" opacity="0.57"/>
<circle cx="92.8" cy="98.5" r="1.1" fill="#a3bdec" opacity="0.72"/>
<circle cx="101.8" cy="104.3" r="1.4" fill="#a3bdec" opacity="0.55"/>
<circle cx="90.5" cy="106.1" r="1.0" fill="#a3bdec" opacity="0.89"/>
<circle cx="98.0" cy="96.6" r="1.3" fill="#a3bdec" opacity="0.80"/>
<circle cx="99.0" cy="109.4" r="1.2" fill="#a3bdec" opacity="0.52"/>
<circle cx="89.2" cy="100.2" r="1.0" fill="#a3bdec" opacity="0.55"/>
<circle cx="103.2" cy="100.4" r="1.1" fill="#a3bdec" opacity="0.43"/>
<circle cx="92.3" cy="110.1" r="1.3" fill="#a3bdec" opacity="0.76"/>
<circle cx="93.9" cy="95.0" r="0.9" fill="#a3bdec" opacity="0.82"/>
<circle cx="54.0" cy="125.0" r="18.9" fill="url(#vg)"/>
<line x1="42.6" y1="122.9" x2="36.9" y2="121.8" stroke="#3a5fb0" stroke-width="1.6" stroke-linecap="round" opacity=".55"/>
<line x1="44.4" y1="118.4" x2="39.7" y2="115.1" stroke="#3a5fb0" stroke-width="1.6" stroke-linecap="round" opacity=".55"/>
<line x1="46.7" y1="116.0" x2="43.0" y2="111.5" stroke="#3a5fb0" stroke-width="1.6" stroke-linecap="round" opacity=".55"/>
<line x1="51.5" y1="113.7" x2="50.3" y2="108.0" stroke="#3a5fb0" stroke-width="1.6" stroke-linecap="round" opacity=".55"/>
<line x1="56.0" y1="113.6" x2="56.9" y2="107.8" stroke="#3a5fb0" stroke-width="1.6" stroke-linecap="round" opacity=".55"/>
<line x1="60.1" y1="115.1" x2="63.2" y2="110.2" stroke="#3a5fb0" stroke-width="1.6" stroke-linecap="round" opacity=".55"/>
<line x1="62.8" y1="117.4" x2="67.2" y2="113.6" stroke="#3a5fb0" stroke-width="1.6" stroke-linecap="round" opacity=".55"/>
<line x1="65.0" y1="121.2" x2="70.5" y2="119.3" stroke="#3a5fb0" stroke-width="1.6" stroke-linecap="round" opacity=".55"/>
<line x1="65.5" y1="126.4" x2="71.3" y2="127.0" stroke="#3a5fb0" stroke-width="1.6" stroke-linecap="round" opacity=".55"/>
<line x1="63.8" y1="131.2" x2="68.7" y2="134.4" stroke="#3a5fb0" stroke-width="1.6" stroke-linecap="round" opacity=".55"/>
<line x1="61.4" y1="134.0" x2="65.1" y2="138.4" stroke="#3a5fb0" stroke-width="1.6" stroke-linecap="round" opacity=".55"/>
<line x1="56.9" y1="136.2" x2="58.4" y2="141.8" stroke="#3a5fb0" stroke-width="1.6" stroke-linecap="round" opacity=".55"/>
<line x1="52.8" y1="136.5" x2="52.1" y2="142.3" stroke="#3a5fb0" stroke-width="1.6" stroke-linecap="round" opacity=".55"/>
<line x1="47.6" y1="134.7" x2="44.4" y2="139.5" stroke="#3a5fb0" stroke-width="1.6" stroke-linecap="round" opacity=".55"/>
<line x1="44.3" y1="131.3" x2="39.4" y2="134.5" stroke="#3a5fb0" stroke-width="1.6" stroke-linecap="round" opacity=".55"/>
<line x1="42.8" y1="128.1" x2="37.2" y2="129.7" stroke="#3a5fb0" stroke-width="1.6" stroke-linecap="round" opacity=".55"/>
<circle cx="54.0" cy="125.0" r="13.1" fill="url(#vb)"/>
<circle cx="52.2" cy="124.8" r="1.8" fill="#a3bdec" opacity="0.43"/>
<circle cx="56.5" cy="123.2" r="1.7" fill="#a3bdec" opacity="0.84"/>
<circle cx="53.1" cy="128.9" r="1.3" fill="#a3bdec" opacity="0.75"/>
<circle cx="51.7" cy="120.9" r="1.5" fill="#a3bdec" opacity="0.88"/>
<circle cx="59.1" cy="126.6" r="1.3" fill="#a3bdec" opacity="0.67"/>
<circle cx="48.6" cy="127.5" r="1.7" fill="#a3bdec" opacity="0.72"/>
<circle cx="56.5" cy="119.1" r="1.4" fill="#a3bdec" opacity="0.44"/>
<circle cx="56.3" cy="131.5" r="1.8" fill="#a3bdec" opacity="0.64"/>
<circle cx="47.5" cy="121.5" r="1.8" fill="#a3bdec" opacity="0.47"/>
<circle cx="61.5" cy="123.0" r="1.7" fill="#a3bdec" opacity="0.81"/>
<circle cx="49.5" cy="131.9" r="1.8" fill="#a3bdec" opacity="0.41"/>
<circle cx="52.6" cy="116.5" r="1.4" fill="#a3bdec" opacity="0.43"/>
<circle cx="61.1" cy="130.5" r="1.7" fill="#a3bdec" opacity="0.58"/>
<circle cx="44.7" cy="125.7" r="1.8" fill="#a3bdec" opacity="0.59"/>
<circle cx="60.6" cy="117.9" r="1.7" fill="#a3bdec" opacity="0.83"/>
<circle cx="53.9" cy="135.0" r="1.3" fill="#a3bdec" opacity="0.68"/>
<circle cx="47.1" cy="117.4" r="1.8" fill="#a3bdec" opacity="0.66"/>
<circle cx="64.5" cy="126.0" r="1.4" fill="#a3bdec" opacity="0.53"/>
<circle cx="45.3" cy="131.6" r="1.7" fill="#a3bdec" opacity="0.50"/>
<circle cx="56.0" cy="114.0" r="1.6" fill="#a3bdec" opacity="0.68"/>
<circle cx="60.1" cy="134.7" r="1.5" fill="#a3bdec" opacity="0.46"/>
<circle cx="10.0" cy="147.0" r="15.6" fill="url(#vg)"/>
<line x1="13.8" y1="155.8" x2="15.7" y2="160.2" stroke="#3a5fb0" stroke-width="1.3" stroke-linecap="round" opacity=".55"/>
<line x1="10.6" y1="156.6" x2="11.0" y2="161.4" stroke="#3a5fb0" stroke-width="1.3" stroke-linecap="round" opacity=".55"/>
<line x1="7.1" y1="156.2" x2="5.7" y2="160.7" stroke="#3a5fb0" stroke-width="1.3" stroke-linecap="round" opacity=".55"/>
<line x1="3.5" y1="154.1" x2="0.2" y2="157.6" stroke="#3a5fb0" stroke-width="1.3" stroke-linecap="round" opacity=".55"/>
<line x1="1.3" y1="151.0" x2="-3.1" y2="153.0" stroke="#3a5fb0" stroke-width="1.3" stroke-linecap="round" opacity=".55"/>
<line x1="0.4" y1="147.4" x2="-4.4" y2="147.6" stroke="#3a5fb0" stroke-width="1.3" stroke-linecap="round" opacity=".55"/>
<line x1="1.0" y1="143.7" x2="-3.5" y2="142.1" stroke="#3a5fb0" stroke-width="1.3" stroke-linecap="round" opacity=".55"/>
<line x1="2.7" y1="140.8" x2="-0.9" y2="137.6" stroke="#3a5fb0" stroke-width="1.3" stroke-linecap="round" opacity=".55"/>
<line x1="5.6" y1="138.4" x2="3.5" y2="134.2" stroke="#3a5fb0" stroke-width="1.3" stroke-linecap="round" opacity=".55"/>
<line x1="9.9" y1="137.4" x2="9.9" y2="132.6" stroke="#3a5fb0" stroke-width="1.3" stroke-linecap="round" opacity=".55"/>
<line x1="13.1" y1="137.9" x2="14.6" y2="133.4" stroke="#3a5fb0" stroke-width="1.3" stroke-linecap="round" opacity=".55"/>
<line x1="16.7" y1="140.1" x2="20.1" y2="136.7" stroke="#3a5fb0" stroke-width="1.3" stroke-linecap="round" opacity=".55"/>
<line x1="18.9" y1="143.4" x2="23.3" y2="141.6" stroke="#3a5fb0" stroke-width="1.3" stroke-linecap="round" opacity=".55"/>
<line x1="19.6" y1="147.2" x2="24.4" y2="147.3" stroke="#3a5fb0" stroke-width="1.3" stroke-linecap="round" opacity=".55"/>
<line x1="18.7" y1="150.9" x2="23.1" y2="152.9" stroke="#3a5fb0" stroke-width="1.3" stroke-linecap="round" opacity=".55"/>
<line x1="17.3" y1="153.2" x2="21.0" y2="156.3" stroke="#3a5fb0" stroke-width="1.3" stroke-linecap="round" opacity=".55"/>
<circle cx="10.0" cy="147.0" r="10.8" fill="url(#vb)"/>
<circle cx="10.7" cy="148.5" r="1.1" fill="#a3bdec" opacity="0.77"/>
<circle cx="7.4" cy="145.9" r="1.3" fill="#a3bdec" opacity="0.50"/>
<circle cx="13.4" cy="145.8" r="1.4" fill="#a3bdec" opacity="0.84"/>
<circle cx="8.0" cy="150.7" r="1.5" fill="#a3bdec" opacity="0.51"/>
<circle cx="8.8" cy="142.4" r="1.2" fill="#a3bdec" opacity="0.40"/>
<circle cx="14.5" cy="149.9" r="1.5" fill="#a3bdec" opacity="0.51"/>
<circle cx="4.3" cy="148.0" r="1.4" fill="#a3bdec" opacity="0.67"/>
<circle cx="13.8" cy="142.1" r="1.3" fill="#a3bdec" opacity="0.66"/>
<circle cx="10.5" cy="153.6" r="1.5" fill="#a3bdec" opacity="0.70"/>
<circle cx="4.9" cy="142.3" r="1.2" fill="#a3bdec" opacity="0.46"/>
<circle cx="17.3" cy="147.0" r="1.3" fill="#a3bdec" opacity="0.86"/>
<circle cx="4.3" cy="152.2" r="1.1" fill="#a3bdec" opacity="0.74"/>
<circle cx="10.7" cy="139.0" r="1.4" fill="#a3bdec" opacity="0.48"/>
<circle cx="15.0" cy="153.6" r="1.1" fill="#a3bdec" opacity="0.74"/>
<circle cx="1.5" cy="145.5" r="1.3" fill="#a3bdec" opacity="0.60"/>
<circle cx="17.5" cy="142.3" r="1.3" fill="#a3bdec" opacity="0.45"/>
<circle cx="7.6" cy="155.9" r="1.4" fill="#a3bdec" opacity="0.69"/>
<circle cx="5.7" cy="138.6" r="1.3" fill="#a3bdec" opacity="0.57"/>
<circle cx="95.0" cy="149.0" r="9.1" fill="url(#vg)"/>
<line x1="92.7" y1="143.9" x2="91.6" y2="141.3" stroke="#3a5fb0" stroke-width="1.0" stroke-linecap="round" opacity=".55"/>
<line x1="94.6" y1="143.4" x2="94.5" y2="140.6" stroke="#3a5fb0" stroke-width="1.0" stroke-linecap="round" opacity=".55"/>
<line x1="96.8" y1="143.7" x2="97.7" y2="141.0" stroke="#3a5fb0" stroke-width="1.0" stroke-linecap="round" opacity=".55"/>
<line x1="98.6" y1="144.7" x2="100.4" y2="142.6" stroke="#3a5fb0" stroke-width="1.0" stroke-linecap="round" opacity=".55"/>
<line x1="100.2" y1="146.9" x2="102.8" y2="145.9" stroke="#3a5fb0" stroke-width="1.0" stroke-linecap="round" opacity=".55"/>
<line x1="100.6" y1="148.4" x2="103.4" y2="148.2" stroke="#3a5fb0" stroke-width="1.0" stroke-linecap="round" opacity=".55"/>
<line x1="100.4" y1="150.5" x2="103.1" y2="151.2" stroke="#3a5fb0" stroke-width="1.0" stroke-linecap="round" opacity=".55"/>
<line x1="99.4" y1="152.5" x2="101.5" y2="154.3" stroke="#3a5fb0" stroke-width="1.0" stroke-linecap="round" opacity=".55"/>
<line x1="97.7" y1="153.9" x2="99.0" y2="156.4" stroke="#3a5fb0" stroke-width="1.0" stroke-linecap="round" opacity=".55"/>
<line x1="95.5" y1="154.6" x2="95.8" y2="157.4" stroke="#3a5fb0" stroke-width="1.0" stroke-linecap="round" opacity=".55"/>
<line x1="93.4" y1="154.4" x2="92.6" y2="157.1" stroke="#3a5fb0" stroke-width="1.0" stroke-linecap="round" opacity=".55"/>
<line x1="91.6" y1="153.4" x2="89.9" y2="155.7" stroke="#3a5fb0" stroke-width="1.0" stroke-linecap="round" opacity=".55"/>
<line x1="90.1" y1="151.6" x2="87.6" y2="152.9" stroke="#3a5fb0" stroke-width="1.0" stroke-linecap="round" opacity=".55"/>
<line x1="89.4" y1="149.5" x2="86.6" y2="149.8" stroke="#3a5fb0" stroke-width="1.0" stroke-linecap="round" opacity=".55"/>
<line x1="89.7" y1="147.2" x2="87.1" y2="146.2" stroke="#3a5fb0" stroke-width="1.0" stroke-linecap="round" opacity=".55"/>
<line x1="90.6" y1="145.5" x2="88.4" y2="143.8" stroke="#3a5fb0" stroke-width="1.0" stroke-linecap="round" opacity=".55"/>
<circle cx="95.0" cy="149.0" r="6.3" fill="url(#vb)"/>
<circle cx="94.4" cy="147.9" r="0.7" fill="#a3bdec" opacity="0.50"/>
<circle cx="97.0" cy="149.8" r="0.9" fill="#a3bdec" opacity="0.59"/>
<circle cx="92.4" cy="150.0" r="1.0" fill="#a3bdec" opacity="0.80"/>
<circle cx="96.5" cy="146.0" r="0.9" fill="#a3bdec" opacity="0.45"/>
<circle cx="96.1" cy="152.6" r="0.9" fill="#a3bdec" opacity="0.78"/>
<circle cx="91.4" cy="146.8" r="0.8" fill="#a3bdec" opacity="0.73"/>
<circle cx="99.4" cy="148.1" r="0.8" fill="#a3bdec" opacity="0.86"/>
<circle cx="92.1" cy="152.9" r="1.0" fill="#a3bdec" opacity="0.80"/>
<circle cx="94.4" cy="143.9" r="1.0" fill="#a3bdec" opacity="0.52"/>
<circle cx="99.1" cy="152.6" r="0.9" fill="#a3bdec" opacity="0.77"/>
<circle cx="665.0" cy="21.0" r="19.5" fill="url(#vg)"/>
<line x1="675.1" y1="14.6" x2="680.2" y2="11.3" stroke="#3a5fb0" stroke-width="1.6" stroke-linecap="round" opacity=".55"/>
<line x1="676.8" y1="19.1" x2="682.8" y2="18.1" stroke="#3a5fb0" stroke-width="1.6" stroke-linecap="round" opacity=".55"/>
<line x1="676.6" y1="24.0" x2="682.4" y2="25.5" stroke="#3a5fb0" stroke-width="1.6" stroke-linecap="round" opacity=".55"/>
<line x1="675.3" y1="27.2" x2="680.4" y2="30.3" stroke="#3a5fb0" stroke-width="1.6" stroke-linecap="round" opacity=".55"/>
<line x1="671.5" y1="31.1" x2="674.8" y2="36.1" stroke="#3a5fb0" stroke-width="1.6" stroke-linecap="round" opacity=".55"/>
<line x1="666.7" y1="32.9" x2="667.5" y2="38.8" stroke="#3a5fb0" stroke-width="1.6" stroke-linecap="round" opacity=".55"/>
<line x1="662.0" y1="32.6" x2="660.6" y2="38.4" stroke="#3a5fb0" stroke-width="1.6" stroke-linecap="round" opacity=".55"/>
<line x1="658.3" y1="30.9" x2="654.9" y2="35.9" stroke="#3a5fb0" stroke-width="1.6" stroke-linecap="round" opacity=".55"/>
<line x1="655.4" y1="28.2" x2="650.7" y2="31.9" stroke="#3a5fb0" stroke-width="1.6" stroke-linecap="round" opacity=".55"/>
<line x1="653.3" y1="23.6" x2="647.4" y2="24.9" stroke="#3a5fb0" stroke-width="1.6" stroke-linecap="round" opacity=".55"/>
<line x1="653.4" y1="17.8" x2="647.6" y2="16.2" stroke="#3a5fb0" stroke-width="1.6" stroke-linecap="round" opacity=".55"/>
<line x1="654.6" y1="15.0" x2="649.4" y2="12.1" stroke="#3a5fb0" stroke-width="1.6" stroke-linecap="round" opacity=".55"/>
<line x1="658.0" y1="11.3" x2="654.5" y2="6.4" stroke="#3a5fb0" stroke-width="1.6" stroke-linecap="round" opacity=".55"/>
<line x1="663.4" y1="9.1" x2="662.6" y2="3.2" stroke="#3a5fb0" stroke-width="1.6" stroke-linecap="round" opacity=".55"/>
<line x1="667.2" y1="9.2" x2="668.2" y2="3.3" stroke="#3a5fb0" stroke-width="1.6" stroke-linecap="round" opacity=".55"/>
<line x1="671.1" y1="10.7" x2="674.2" y2="5.5" stroke="#3a5fb0" stroke-width="1.6" stroke-linecap="round" opacity=".55"/>
<circle cx="665.0" cy="21.0" r="13.5" fill="url(#vb)"/>
<circle cx="666.5" cy="20.0" r="1.4" fill="#a3bdec" opacity="0.85"/>
<circle cx="664.3" cy="24.0" r="1.4" fill="#a3bdec" opacity="0.61"/>
<circle cx="663.0" cy="17.5" r="1.6" fill="#a3bdec" opacity="0.80"/>
<circle cx="669.5" cy="22.5" r="1.5" fill="#a3bdec" opacity="0.44"/>
<circle cx="660.0" cy="23.2" r="1.6" fill="#a3bdec" opacity="0.42"/>
<circle cx="667.4" cy="15.5" r="1.3" fill="#a3bdec" opacity="0.50"/>
<circle cx="667.1" cy="27.2" r="1.7" fill="#a3bdec" opacity="0.54"/>
<circle cx="658.8" cy="17.7" r="1.7" fill="#a3bdec" opacity="0.48"/>
<circle cx="672.2" cy="19.2" r="1.3" fill="#a3bdec" opacity="0.41"/>
<circle cx="660.7" cy="27.6" r="1.7" fill="#a3bdec" opacity="0.83"/>
<circle cx="663.7" cy="12.8" r="1.3" fill="#a3bdec" opacity="0.52"/>
<circle cx="671.8" cy="26.4" r="1.2" fill="#a3bdec" opacity="0.72"/>
<circle cx="656.0" cy="21.6" r="1.4" fill="#a3bdec" opacity="0.47"/>
<circle cx="671.5" cy="14.2" r="1.6" fill="#a3bdec" opacity="0.70"/>
<circle cx="664.8" cy="30.7" r="1.5" fill="#a3bdec" opacity="0.48"/>
<circle cx="658.3" cy="13.5" r="1.6" fill="#a3bdec" opacity="0.68"/>
<circle cx="675.3" cy="22.1" r="1.5" fill="#a3bdec" opacity="0.48"/>
<circle cx="656.4" cy="27.4" r="1.8" fill="#a3bdec" opacity="0.83"/>
<circle cx="667.1" cy="10.2" r="1.7" fill="#a3bdec" opacity="0.90"/>
<circle cx="670.9" cy="30.6" r="1.6" fill="#a3bdec" opacity="0.57"/>
<circle cx="653.9" cy="17.8" r="1.3" fill="#a3bdec" opacity="0.70"/>
<circle cx="675.6" cy="15.7" r="1.6" fill="#a3bdec" opacity="0.62"/>
<circle cx="622.5" cy="45.0" r="14.3" fill="url(#vg)"/>
<line x1="626.8" y1="52.7" x2="628.9" y2="56.6" stroke="#3a5fb0" stroke-width="1.2" stroke-linecap="round" opacity=".55"/>
<line x1="623.6" y1="53.7" x2="624.1" y2="58.1" stroke="#3a5fb0" stroke-width="1.2" stroke-linecap="round" opacity=".55"/>
<line x1="620.3" y1="53.5" x2="619.3" y2="57.8" stroke="#3a5fb0" stroke-width="1.2" stroke-linecap="round" opacity=".55"/>
<line x1="617.5" y1="52.3" x2="615.1" y2="55.9" stroke="#3a5fb0" stroke-width="1.2" stroke-linecap="round" opacity=".55"/>
<line x1="614.7" y1="49.1" x2="610.8" y2="51.2" stroke="#3a5fb0" stroke-width="1.2" stroke-linecap="round" opacity=".55"/>
<line x1="613.7" y1="45.8" x2="609.4" y2="46.2" stroke="#3a5fb0" stroke-width="1.2" stroke-linecap="round" opacity=".55"/>
<line x1="614.0" y1="42.8" x2="609.7" y2="41.7" stroke="#3a5fb0" stroke-width="1.2" stroke-linecap="round" opacity=".55"/>
<line x1="615.5" y1="39.7" x2="611.9" y2="37.1" stroke="#3a5fb0" stroke-width="1.2" stroke-linecap="round" opacity=".55"/>
<line x1="617.7" y1="37.6" x2="615.3" y2="33.9" stroke="#3a5fb0" stroke-width="1.2" stroke-linecap="round" opacity=".55"/>
<line x1="620.6" y1="36.4" x2="619.6" y2="32.1" stroke="#3a5fb0" stroke-width="1.2" stroke-linecap="round" opacity=".55"/>
<line x1="624.5" y1="36.4" x2="625.5" y2="32.1" stroke="#3a5fb0" stroke-width="1.2" stroke-linecap="round" opacity=".55"/>
<line x1="627.9" y1="38.0" x2="630.6" y2="34.5" stroke="#3a5fb0" stroke-width="1.2" stroke-linecap="round" opacity=".55"/>
<line x1="629.7" y1="40.0" x2="633.4" y2="37.5" stroke="#3a5fb0" stroke-width="1.2" stroke-linecap="round" opacity=".55"/>
<line x1="631.3" y1="44.2" x2="635.6" y2="43.7" stroke="#3a5fb0" stroke-width="1.2" stroke-linecap="round" opacity=".55"/>
<line x1="631.1" y1="46.8" x2="635.4" y2="47.7" stroke="#3a5fb0" stroke-width="1.2" stroke-linecap="round" opacity=".55"/>
<line x1="629.8" y1="50.0" x2="633.4" y2="52.5" stroke="#3a5fb0" stroke-width="1.2" stroke-linecap="round" opacity=".55"/>
<circle cx="622.5" cy="45.0" r="9.9" fill="url(#vb)"/>
<circle cx="623.3" cy="46.3" r="1.0" fill="#a3bdec" opacity="0.90"/>
<circle cx="619.9" cy="44.2" r="1.3" fill="#a3bdec" opacity="0.84"/>
<circle cx="625.6" cy="43.5" r="1.3" fill="#a3bdec" opacity="0.42"/>
<circle cx="621.0" cy="48.8" r="1.1" fill="#a3bdec" opacity="0.65"/>
<circle cx="620.9" cy="40.6" r="1.0" fill="#a3bdec" opacity="0.88"/>
<circle cx="627.1" cy="47.3" r="1.1" fill="#a3bdec" opacity="0.48"/>
<circle cx="617.1" cy="46.5" r="1.4" fill="#a3bdec" opacity="0.46"/>
<circle cx="625.7" cy="39.9" r="1.4" fill="#a3bdec" opacity="0.63"/>
<circle cx="623.7" cy="51.3" r="1.2" fill="#a3bdec" opacity="0.57"/>
<circle cx="617.1" cy="40.9" r="1.2" fill="#a3bdec" opacity="0.49"/>
<circle cx="629.6" cy="44.3" r="1.0" fill="#a3bdec" opacity="0.83"/>
<circle cx="617.5" cy="50.5" r="1.1" fill="#a3bdec" opacity="0.79"/>
<circle cx="622.4" cy="37.2" r="1.1" fill="#a3bdec" opacity="0.88"/>
<circle cx="628.0" cy="50.9" r="1.4" fill="#a3bdec" opacity="0.78"/>
<circle cx="614.1" cy="44.3" r="1.3" fill="#a3bdec" opacity="0.69"/>
<circle cx="629.3" cy="39.7" r="1.3" fill="#a3bdec" opacity="0.46"/>
<circle cx="713.0" cy="45.0" r="19.5" fill="url(#vg)"/>
<line x1="724.4" y1="41.2" x2="730.1" y2="39.3" stroke="#3a5fb0" stroke-width="1.6" stroke-linecap="round" opacity=".55"/>
<line x1="725.0" y1="45.6" x2="731.0" y2="45.9" stroke="#3a5fb0" stroke-width="1.6" stroke-linecap="round" opacity=".55"/>
<line x1="722.9" y1="51.8" x2="727.9" y2="55.2" stroke="#3a5fb0" stroke-width="1.6" stroke-linecap="round" opacity=".55"/>
<line x1="720.8" y1="54.1" x2="724.7" y2="58.7" stroke="#3a5fb0" stroke-width="1.6" stroke-linecap="round" opacity=".55"/>
<line x1="716.8" y1="56.4" x2="718.8" y2="62.1" stroke="#3a5fb0" stroke-width="1.6" stroke-linecap="round" opacity=".55"/>
<line x1="711.2" y1="56.9" x2="710.3" y2="62.8" stroke="#3a5fb0" stroke-width="1.6" stroke-linecap="round" opacity=".55"/>
<line x1="707.3" y1="55.6" x2="704.4" y2="60.8" stroke="#3a5fb0" stroke-width="1.6" stroke-linecap="round" opacity=".55"/>
<line x1="703.1" y1="51.7" x2="698.1" y2="55.1" stroke="#3a5fb0" stroke-width="1.6" stroke-linecap="round" opacity=".55"/>
<line x1="701.6" y1="48.6" x2="695.9" y2="50.5" stroke="#3a5fb0" stroke-width="1.6" stroke-linecap="round" opacity=".55"/>
<line x1="701.2" y1="42.6" x2="695.4" y2="41.4" stroke="#3a5fb0" stroke-width="1.6" stroke-linecap="round" opacity=".55"/>
<line x1="702.4" y1="39.3" x2="697.1" y2="36.5" stroke="#3a5fb0" stroke-width="1.6" stroke-linecap="round" opacity=".55"/>
<line x1="705.8" y1="35.4" x2="702.2" y2="30.6" stroke="#3a5fb0" stroke-width="1.6" stroke-linecap="round" opacity=".55"/>
<line x1="710.7" y1="33.2" x2="709.5" y2="27.3" stroke="#3a5fb0" stroke-width="1.6" stroke-linecap="round" opacity=".55"/>
<line x1="714.9" y1="33.1" x2="715.8" y2="27.2" stroke="#3a5fb0" stroke-width="1.6" stroke-linecap="round" opacity=".55"/>
<line x1="719.7" y1="35.0" x2="723.0" y2="30.0" stroke="#3a5fb0" stroke-width="1.6" stroke-linecap="round" opacity=".55"/>
<line x1="722.7" y1="38.0" x2="727.6" y2="34.5" stroke="#3a5fb0" stroke-width="1.6" stroke-linecap="round" opacity=".55"/>
<circle cx="713.0" cy="45.0" r="13.5" fill="url(#vb)"/>
<circle cx="714.7" cy="44.5" r="1.2" fill="#a3bdec" opacity="0.84"/>
<circle cx="711.3" cy="47.6" r="1.6" fill="#a3bdec" opacity="0.56"/>
<circle cx="712.3" cy="41.0" r="1.3" fill="#a3bdec" opacity="0.82"/>
<circle cx="716.8" cy="47.9" r="1.6" fill="#a3bdec" opacity="0.87"/>
<circle cx="707.6" cy="45.5" r="1.7" fill="#a3bdec" opacity="0.88"/>
<circle cx="717.0" cy="40.6" r="1.6" fill="#a3bdec" opacity="0.75"/>
<circle cx="713.0" cy="51.5" r="1.6" fill="#a3bdec" opacity="0.53"/>
<circle cx="708.3" cy="39.8" r="1.8" fill="#a3bdec" opacity="0.56"/>
<circle cx="720.4" cy="45.6" r="1.7" fill="#a3bdec" opacity="0.88"/>
<circle cx="706.8" cy="49.8" r="1.6" fill="#a3bdec" opacity="0.47"/>
<circle cx="714.4" cy="36.8" r="1.8" fill="#a3bdec" opacity="0.73"/>
<circle cx="717.7" cy="52.3" r="1.3" fill="#a3bdec" opacity="0.42"/>
<circle cx="704.3" cy="42.7" r="1.6" fill="#a3bdec" opacity="0.42"/>
<circle cx="721.3" cy="40.6" r="1.8" fill="#a3bdec" opacity="0.65"/>
<circle cx="709.7" cy="54.2" r="1.5" fill="#a3bdec" opacity="0.60"/>
<circle cx="709.1" cy="35.7" r="1.6" fill="#a3bdec" opacity="0.86"/>
<circle cx="722.4" cy="49.4" r="1.4" fill="#a3bdec" opacity="0.59"/>
<circle cx="702.8" cy="48.2" r="1.6" fill="#a3bdec" opacity="0.55"/>
<circle cx="718.5" cy="35.5" r="1.6" fill="#a3bdec" opacity="0.67"/>
<circle cx="715.5" cy="56.0" r="1.5" fill="#a3bdec" opacity="0.74"/>
<circle cx="703.5" cy="38.4" r="1.6" fill="#a3bdec" opacity="0.44"/>
<circle cx="724.8" cy="43.4" r="1.9" fill="#a3bdec" opacity="0.58"/>
<circle cx="710.0" cy="6.0" r="11.7" fill="url(#vg)"/>
<line x1="716.6" y1="3.2" x2="719.9" y2="1.8" stroke="#3a5fb0" stroke-width="1.0" stroke-linecap="round" opacity=".55"/>
<line x1="717.2" y1="5.9" x2="720.8" y2="5.8" stroke="#3a5fb0" stroke-width="1.0" stroke-linecap="round" opacity=".55"/>
<line x1="717.0" y1="7.7" x2="720.5" y2="8.6" stroke="#3a5fb0" stroke-width="1.0" stroke-linecap="round" opacity=".55"/>
<line x1="715.4" y1="10.7" x2="718.1" y2="13.1" stroke="#3a5fb0" stroke-width="1.0" stroke-linecap="round" opacity=".55"/>
<line x1="713.4" y1="12.4" x2="715.1" y2="15.5" stroke="#3a5fb0" stroke-width="1.0" stroke-linecap="round" opacity=".55"/>
<line x1="710.6" y1="13.2" x2="710.8" y2="16.8" stroke="#3a5fb0" stroke-width="1.0" stroke-linecap="round" opacity=".55"/>
<line x1="708.2" y1="13.0" x2="707.3" y2="16.5" stroke="#3a5fb0" stroke-width="1.0" stroke-linecap="round" opacity=".55"/>
<line x1="705.6" y1="11.7" x2="703.4" y2="14.6" stroke="#3a5fb0" stroke-width="1.0" stroke-linecap="round" opacity=".55"/>
<line x1="703.6" y1="9.3" x2="700.4" y2="11.0" stroke="#3a5fb0" stroke-width="1.0" stroke-linecap="round" opacity=".55"/>
<line x1="702.9" y1="6.9" x2="699.3" y2="7.4" stroke="#3a5fb0" stroke-width="1.0" stroke-linecap="round" opacity=".55"/>
<line x1="703.1" y1="3.9" x2="699.7" y2="2.8" stroke="#3a5fb0" stroke-width="1.0" stroke-linecap="round" opacity=".55"/>
<line x1="704.2" y1="1.8" x2="701.3" y2="-0.3" stroke="#3a5fb0" stroke-width="1.0" stroke-linecap="round" opacity=".55"/>
<line x1="706.3" y1="-0.2" x2="704.4" y2="-3.3" stroke="#3a5fb0" stroke-width="1.0" stroke-linecap="round" opacity=".55"/>
<line x1="709.6" y1="-1.2" x2="709.5" y2="-4.8" stroke="#3a5fb0" stroke-width="1.0" stroke-linecap="round" opacity=".55"/>
<line x1="712.1" y1="-0.9" x2="713.2" y2="-4.3" stroke="#3a5fb0" stroke-width="1.0" stroke-linecap="round" opacity=".55"/>
<line x1="714.7" y1="0.5" x2="717.0" y2="-2.2" stroke="#3a5fb0" stroke-width="1.0" stroke-linecap="round" opacity=".55"/>
<circle cx="710.0" cy="6.0" r="8.1" fill="url(#vb)"/>
<circle cx="711.3" cy="5.4" r="1.1" fill="#a3bdec" opacity="0.58"/>
<circle cx="709.2" cy="8.3" r="0.9" fill="#a3bdec" opacity="0.79"/>
<circle cx="708.8" cy="3.1" r="1.1" fill="#a3bdec" opacity="0.73"/>
<circle cx="713.4" cy="7.6" r="1.1" fill="#a3bdec" opacity="0.89"/>
<circle cx="706.0" cy="7.3" r="1.0" fill="#a3bdec" opacity="0.78"/>
<circle cx="712.4" cy="2.0" r="1.0" fill="#a3bdec" opacity="0.69"/>
<circle cx="711.1" cy="11.0" r="1.1" fill="#a3bdec" opacity="0.56"/>
<circle cx="705.5" cy="2.8" r="0.9" fill="#a3bdec" opacity="0.64"/>
<circle cx="715.8" cy="5.3" r="1.1" fill="#a3bdec" opacity="0.70"/>
<circle cx="706.0" cy="10.7" r="1.0" fill="#a3bdec" opacity="0.72"/>
<circle cx="709.8" cy="-0.5" r="0.9" fill="#a3bdec" opacity="0.49"/>
<circle cx="714.8" cy="10.8" r="1.0" fill="#a3bdec" opacity="0.81"/>
<circle cx="702.9" cy="5.6" r="0.9" fill="#a3bdec" opacity="0.46"/>
<circle cx="665.0" cy="75.0" r="26.0" fill="url(#vg)"/>
<line x1="662.1" y1="59.3" x2="660.6" y2="51.4" stroke="#3a5fb0" stroke-width="2.2" stroke-linecap="round" opacity=".55"/>
<line x1="666.6" y1="59.1" x2="667.5" y2="51.1" stroke="#3a5fb0" stroke-width="2.2" stroke-linecap="round" opacity=".55"/>
<line x1="674.4" y1="62.0" x2="679.1" y2="55.6" stroke="#3a5fb0" stroke-width="2.2" stroke-linecap="round" opacity=".55"/>
<line x1="677.4" y1="64.9" x2="683.7" y2="59.9" stroke="#3a5fb0" stroke-width="2.2" stroke-linecap="round" opacity=".55"/>
<line x1="680.6" y1="71.6" x2="688.5" y2="70.0" stroke="#3a5fb0" stroke-width="2.2" stroke-linecap="round" opacity=".55"/>
<line x1="680.9" y1="76.4" x2="688.9" y2="77.1" stroke="#3a5fb0" stroke-width="2.2" stroke-linecap="round" opacity=".55"/>
<line x1="678.3" y1="83.9" x2="685.0" y2="88.3" stroke="#3a5fb0" stroke-width="2.2" stroke-linecap="round" opacity=".55"/>
<line x1="675.2" y1="87.4" x2="680.2" y2="93.6" stroke="#3a5fb0" stroke-width="2.2" stroke-linecap="round" opacity=".55"/>
<line x1="668.3" y1="90.7" x2="669.9" y2="98.5" stroke="#3a5fb0" stroke-width="2.2" stroke-linecap="round" opacity=".55"/>
<line x1="662.0" y1="90.7" x2="660.5" y2="98.6" stroke="#3a5fb0" stroke-width="2.2" stroke-linecap="round" opacity=".55"/>
<line x1="656.1" y1="88.3" x2="651.7" y2="95.0" stroke="#3a5fb0" stroke-width="2.2" stroke-linecap="round" opacity=".55"/>
<line x1="652.2" y1="84.6" x2="645.8" y2="89.4" stroke="#3a5fb0" stroke-width="2.2" stroke-linecap="round" opacity=".55"/>
<line x1="649.3" y1="77.9" x2="641.4" y2="79.3" stroke="#3a5fb0" stroke-width="2.2" stroke-linecap="round" opacity=".55"/>
<line x1="649.4" y1="71.3" x2="641.6" y2="69.5" stroke="#3a5fb0" stroke-width="2.2" stroke-linecap="round" opacity=".55"/>
<line x1="650.8" y1="67.5" x2="643.8" y2="63.8" stroke="#3a5fb0" stroke-width="2.2" stroke-linecap="round" opacity=".55"/>
<line x1="655.6" y1="62.1" x2="650.9" y2="55.6" stroke="#3a5fb0" stroke-width="2.2" stroke-linecap="round" opacity=".55"/>
<circle cx="665.0" cy="75.0" r="18.0" fill="url(#vb)"/>
<circle cx="664.5" cy="73.0" r="2.4" fill="#a3bdec" opacity="0.77"/>
<circle cx="668.0" cy="77.0" r="1.9" fill="#a3bdec" opacity="0.55"/>
<circle cx="660.4" cy="75.7" r="2.4" fill="#a3bdec" opacity="0.44"/>
<circle cx="668.4" cy="70.7" r="2.2" fill="#a3bdec" opacity="0.82"/>
<circle cx="665.4" cy="81.2" r="1.6" fill="#a3bdec" opacity="0.56"/>
<circle cx="660.1" cy="70.3" r="1.8" fill="#a3bdec" opacity="0.67"/>
<circle cx="672.4" cy="75.2" r="1.8" fill="#a3bdec" opacity="0.85"/>
<circle cx="659.0" cy="80.3" r="2.3" fill="#a3bdec" opacity="0.56"/>
<circle cx="665.9" cy="66.5" r="2.3" fill="#a3bdec" opacity="0.43"/>
<circle cx="670.3" cy="82.3" r="1.6" fill="#a3bdec" opacity="0.73"/>
<circle cx="655.7" cy="73.1" r="2.2" fill="#a3bdec" opacity="0.81"/>
<circle cx="673.5" cy="69.9" r="2.4" fill="#a3bdec" opacity="0.83"/>
<circle cx="662.1" cy="84.9" r="1.7" fill="#a3bdec" opacity="0.77"/>
<circle cx="660.3" cy="65.4" r="2.3" fill="#a3bdec" opacity="0.45"/>
<circle cx="675.4" cy="79.1" r="1.9" fill="#a3bdec" opacity="0.48"/>
<circle cx="654.3" cy="79.1" r="1.6" fill="#a3bdec" opacity="0.64"/>
<circle cx="670.3" cy="64.4" r="2.1" fill="#a3bdec" opacity="0.89"/>
<circle cx="668.4" cy="86.7" r="1.6" fill="#a3bdec" opacity="0.65"/>
<circle cx="654.3" cy="68.4" r="2.4" fill="#a3bdec" opacity="0.78"/>
<circle cx="677.7" cy="72.5" r="2.0" fill="#a3bdec" opacity="0.52"/>
<circle cx="657.1" cy="85.6" r="2.1" fill="#a3bdec" opacity="0.53"/>
<circle cx="663.6" cy="61.5" r="2.1" fill="#a3bdec" opacity="0.72"/>
<circle cx="675.4" cy="84.2" r="1.9" fill="#a3bdec" opacity="0.80"/>
<circle cx="650.8" cy="75.2" r="1.9" fill="#a3bdec" opacity="0.63"/>
<circle cx="675.5" cy="65.0" r="2.2" fill="#a3bdec" opacity="0.53"/>
<circle cx="664.0" cy="89.7" r="1.7" fill="#a3bdec" opacity="0.69"/>
<circle cx="655.6" cy="63.2" r="1.9" fill="#a3bdec" opacity="0.84"/>
<circle cx="680.1" cy="77.4" r="1.7" fill="#a3bdec" opacity="0.59"/>
<circle cx="652.0" cy="83.6" r="1.6" fill="#a3bdec" opacity="0.63"/>
<circle cx="668.8" cy="59.6" r="1.8" fill="#a3bdec" opacity="0.62"/>
<circle cx="611.0" cy="79.0" r="9.1" fill="url(#vg)"/>
<line x1="606.7" y1="82.6" x2="604.6" y2="84.4" stroke="#3a5fb0" stroke-width="1.0" stroke-linecap="round" opacity=".55"/>
<line x1="605.7" y1="80.8" x2="603.0" y2="81.7" stroke="#3a5fb0" stroke-width="1.0" stroke-linecap="round" opacity=".55"/>
<line x1="605.4" y1="79.2" x2="602.6" y2="79.3" stroke="#3a5fb0" stroke-width="1.0" stroke-linecap="round" opacity=".55"/>
<line x1="606.0" y1="76.5" x2="603.5" y2="75.2" stroke="#3a5fb0" stroke-width="1.0" stroke-linecap="round" opacity=".55"/>
<line x1="607.2" y1="74.9" x2="605.3" y2="72.9" stroke="#3a5fb0" stroke-width="1.0" stroke-linecap="round" opacity=".55"/>
<line x1="608.5" y1="74.0" x2="607.3" y2="71.5" stroke="#3a5fb0" stroke-width="1.0" stroke-linecap="round" opacity=".55"/>
<line x1="611.5" y1="73.4" x2="611.7" y2="70.6" stroke="#3a5fb0" stroke-width="1.0" stroke-linecap="round" opacity=".55"/>
<line x1="613.0" y1="73.8" x2="614.0" y2="71.2" stroke="#3a5fb0" stroke-width="1.0" stroke-linecap="round" opacity=".55"/>
<line x1="614.9" y1="75.0" x2="616.8" y2="72.9" stroke="#3a5fb0" stroke-width="1.0" stroke-linecap="round" opacity=".55"/>
<line x1="616.2" y1="76.9" x2="618.8" y2="75.8" stroke="#3a5fb0" stroke-width="1.0" stroke-linecap="round" opacity=".55"/>
<line x1="616.6" y1="79.1" x2="619.4" y2="79.2" stroke="#3a5fb0" stroke-width="1.0" stroke-linecap="round" opacity=".55"/>
<line x1="616.3" y1="80.9" x2="618.9" y2="81.8" stroke="#3a5fb0" stroke-width="1.0" stroke-linecap="round" opacity=".55"/>
<line x1="614.8" y1="83.1" x2="616.7" y2="85.2" stroke="#3a5fb0" stroke-width="1.0" stroke-linecap="round" opacity=".55"/>
<line x1="612.8" y1="84.3" x2="613.7" y2="87.0" stroke="#3a5fb0" stroke-width="1.0" stroke-linecap="round" opacity=".55"/>
<line x1="610.9" y1="84.6" x2="610.9" y2="87.4" stroke="#3a5fb0" stroke-width="1.0" stroke-linecap="round" opacity=".55"/>
<line x1="608.6" y1="84.0" x2="607.3" y2="86.6" stroke="#3a5fb0" stroke-width="1.0" stroke-linecap="round" opacity=".55"/>
<circle cx="611.0" cy="79.0" r="6.3" fill="url(#vb)"/>
<circle cx="610.1" cy="79.9" r="0.9" fill="#a3bdec" opacity="0.81"/>
<circle cx="611.1" cy="76.8" r="0.8" fill="#a3bdec" opacity="0.58"/>
<circle cx="612.8" cy="81.2" r="0.9" fill="#a3bdec" opacity="0.45"/>
<circle cx="607.7" cy="78.5" r="1.0" fill="#a3bdec" opacity="0.72"/>
<circle cx="614.1" cy="76.9" r="0.8" fill="#a3bdec" opacity="0.69"/>
<circle cx="610.1" cy="83.0" r="0.9" fill="#a3bdec" opacity="0.49"/>
<circle cx="608.8" cy="75.1" r="0.8" fill="#a3bdec" opacity="0.63"/>
<circle cx="615.6" cy="80.5" r="0.7" fill="#a3bdec" opacity="0.68"/>
<circle cx="606.3" cy="81.1" r="0.9" fill="#a3bdec" opacity="0.46"/>
<circle cx="613.2" cy="74.0" r="1.0" fill="#a3bdec" opacity="0.42"/>
<circle cx="715.0" cy="90.0" r="14.3" fill="url(#vg)"/>
<line x1="714.4" y1="81.2" x2="714.1" y2="76.8" stroke="#3a5fb0" stroke-width="1.2" stroke-linecap="round" opacity=".55"/>
<line x1="717.8" y1="81.7" x2="719.2" y2="77.5" stroke="#3a5fb0" stroke-width="1.2" stroke-linecap="round" opacity=".55"/>
<line x1="721.2" y1="83.8" x2="724.3" y2="80.6" stroke="#3a5fb0" stroke-width="1.2" stroke-linecap="round" opacity=".55"/>
<line x1="722.8" y1="85.9" x2="726.7" y2="83.9" stroke="#3a5fb0" stroke-width="1.2" stroke-linecap="round" opacity=".55"/>
<line x1="723.8" y1="90.2" x2="728.2" y2="90.3" stroke="#3a5fb0" stroke-width="1.2" stroke-linecap="round" opacity=".55"/>
<line x1="723.1" y1="93.6" x2="727.1" y2="95.3" stroke="#3a5fb0" stroke-width="1.2" stroke-linecap="round" opacity=".55"/>
<line x1="721.8" y1="95.6" x2="725.2" y2="98.4" stroke="#3a5fb0" stroke-width="1.2" stroke-linecap="round" opacity=".55"/>
<line x1="718.3" y1="98.2" x2="719.9" y2="102.2" stroke="#3a5fb0" stroke-width="1.2" stroke-linecap="round" opacity=".55"/>
<line x1="715.2" y1="98.8" x2="715.3" y2="103.2" stroke="#3a5fb0" stroke-width="1.2" stroke-linecap="round" opacity=".55"/>
<line x1="711.6" y1="98.1" x2="709.9" y2="102.2" stroke="#3a5fb0" stroke-width="1.2" stroke-linecap="round" opacity=".55"/>
<line x1="708.5" y1="95.9" x2="705.2" y2="98.8" stroke="#3a5fb0" stroke-width="1.2" stroke-linecap="round" opacity=".55"/>
<line x1="706.7" y1="92.9" x2="702.5" y2="94.3" stroke="#3a5fb0" stroke-width="1.2" stroke-linecap="round" opacity=".55"/>
<line x1="706.2" y1="90.3" x2="701.8" y2="90.4" stroke="#3a5fb0" stroke-width="1.2" stroke-linecap="round" opacity=".55"/>
<line x1="707.0" y1="86.3" x2="703.0" y2="84.5" stroke="#3a5fb0" stroke-width="1.2" stroke-linecap="round" opacity=".55"/>
<line x1="708.9" y1="83.6" x2="705.9" y2="80.4" stroke="#3a5fb0" stroke-width="1.2" stroke-linecap="round" opacity=".55"/>
<line x1="712.1" y1="81.7" x2="710.6" y2="77.5" stroke="#3a5fb0" stroke-width="1.2" stroke-linecap="round" opacity=".55"/>
<circle cx="715.0" cy="90.0" r="9.9" fill="url(#vb)"/>
<circle cx="715.0" cy="88.4" r="1.0" fill="#a3bdec" opacity="0.87"/>
<circle cx="716.9" cy="92.0" r="1.1" fill="#a3bdec" opacity="0.46"/>
<circle cx="711.5" cy="89.8" r="1.3" fill="#a3bdec" opacity="0.82"/>
<circle cx="718.2" cy="87.4" r="1.4" fill="#a3bdec" opacity="0.58"/>
<circle cx="714.3" cy="94.6" r="1.4" fill="#a3bdec" opacity="0.42"/>
<circle cx="712.1" cy="85.7" r="1.4" fill="#a3bdec" opacity="0.55"/>
<circle cx="720.4" cy="91.4" r="1.2" fill="#a3bdec" opacity="0.46"/>
<circle cx="709.7" cy="92.9" r="1.0" fill="#a3bdec" opacity="0.40"/>
<circle cx="717.1" cy="83.9" r="1.3" fill="#a3bdec" opacity="0.68"/>
<circle cx="717.7" cy="96.2" r="1.4" fill="#a3bdec" opacity="0.83"/>
<circle cx="708.5" cy="87.1" r="1.2" fill="#a3bdec" opacity="0.82"/>
<circle cx="722.1" cy="87.6" r="1.1" fill="#a3bdec" opacity="0.84"/>
<circle cx="711.2" cy="96.8" r="1.1" fill="#a3bdec" opacity="0.87"/>
<circle cx="713.1" cy="82.1" r="1.2" fill="#a3bdec" opacity="0.61"/>
<circle cx="721.9" cy="94.7" r="1.2" fill="#a3bdec" opacity="0.43"/>
<circle cx="706.4" cy="91.3" r="1.0" fill="#a3bdec" opacity="0.67"/>
<circle cx="610.0" cy="114.0" r="18.2" fill="url(#vg)"/>
<line x1="603.6" y1="104.8" x2="600.4" y2="100.2" stroke="#3a5fb0" stroke-width="1.5" stroke-linecap="round" opacity=".55"/>
<line x1="608.1" y1="103.0" x2="607.1" y2="97.5" stroke="#3a5fb0" stroke-width="1.5" stroke-linecap="round" opacity=".55"/>
<line x1="611.1" y1="102.9" x2="611.6" y2="97.3" stroke="#3a5fb0" stroke-width="1.5" stroke-linecap="round" opacity=".55"/>
<line x1="615.1" y1="104.0" x2="617.6" y2="99.0" stroke="#3a5fb0" stroke-width="1.5" stroke-linecap="round" opacity=".55"/>
<line x1="619.3" y1="107.8" x2="624.0" y2="104.7" stroke="#3a5fb0" stroke-width="1.5" stroke-linecap="round" opacity=".55"/>
<line x1="620.8" y1="111.0" x2="626.2" y2="109.5" stroke="#3a5fb0" stroke-width="1.5" stroke-linecap="round" opacity=".55"/>
<line x1="621.1" y1="115.4" x2="626.7" y2="116.1" stroke="#3a5fb0" stroke-width="1.5" stroke-linecap="round" opacity=".55"/>
<line x1="619.3" y1="120.2" x2="624.0" y2="123.3" stroke="#3a5fb0" stroke-width="1.5" stroke-linecap="round" opacity=".55"/>
<line x1="617.1" y1="122.6" x2="620.7" y2="127.0" stroke="#3a5fb0" stroke-width="1.5" stroke-linecap="round" opacity=".55"/>
<line x1="612.0" y1="125.0" x2="613.0" y2="130.5" stroke="#3a5fb0" stroke-width="1.5" stroke-linecap="round" opacity=".55"/>
<line x1="608.4" y1="125.1" x2="607.6" y2="130.6" stroke="#3a5fb0" stroke-width="1.5" stroke-linecap="round" opacity=".55"/>
<line x1="604.9" y1="124.0" x2="602.4" y2="129.0" stroke="#3a5fb0" stroke-width="1.5" stroke-linecap="round" opacity=".55"/>
<line x1="600.6" y1="120.1" x2="595.9" y2="123.1" stroke="#3a5fb0" stroke-width="1.5" stroke-linecap="round" opacity=".55"/>
<line x1="599.1" y1="116.6" x2="593.7" y2="117.9" stroke="#3a5fb0" stroke-width="1.5" stroke-linecap="round" opacity=".55"/>
<line x1="598.8" y1="113.1" x2="593.3" y2="112.7" stroke="#3a5fb0" stroke-width="1.5" stroke-linecap="round" opacity=".55"/>
<line x1="600.7" y1="107.7" x2="596.1" y2="104.6" stroke="#3a5fb0" stroke-width="1.5" stroke-linecap="round" opacity=".55"/>
<circle cx="610.0" cy="114.0" r="12.6" fill="url(#vb)"/>
<circle cx="609.0" cy="112.6" r="1.6" fill="#a3bdec" opacity="0.77"/>
<circle cx="612.9" cy="114.6" r="1.6" fill="#a3bdec" opacity="0.90"/>
<circle cx="606.7" cy="116.0" r="1.1" fill="#a3bdec" opacity="0.89"/>
<circle cx="611.2" cy="109.6" r="1.5" fill="#a3bdec" opacity="0.53"/>
<circle cx="612.3" cy="118.6" r="1.5" fill="#a3bdec" opacity="0.57"/>
<circle cx="604.6" cy="112.0" r="1.5" fill="#a3bdec" opacity="0.75"/>
<circle cx="615.8" cy="111.7" r="1.5" fill="#a3bdec" opacity="0.45"/>
<circle cx="607.1" cy="120.0" r="1.4" fill="#a3bdec" opacity="0.55"/>
<circle cx="608.0" cy="107.2" r="1.6" fill="#a3bdec" opacity="0.87"/>
<circle cx="616.5" cy="117.9" r="1.6" fill="#a3bdec" opacity="0.67"/>
<circle cx="602.2" cy="115.6" r="1.2" fill="#a3bdec" opacity="0.75"/>
<circle cx="614.9" cy="107.3" r="1.3" fill="#a3bdec" opacity="0.90"/>
<circle cx="611.0" cy="122.6" r="1.2" fill="#a3bdec" opacity="0.88"/>
<circle cx="603.2" cy="108.1" r="1.1" fill="#a3bdec" opacity="0.79"/>
<circle cx="619.3" cy="113.7" r="1.4" fill="#a3bdec" opacity="0.69"/>
<circle cx="603.1" cy="120.7" r="1.4" fill="#a3bdec" opacity="0.55"/>
<circle cx="610.6" cy="104.1" r="1.4" fill="#a3bdec" opacity="0.81"/>
<circle cx="616.4" cy="121.9" r="1.4" fill="#a3bdec" opacity="0.58"/>
<circle cx="599.6" cy="112.4" r="1.6" fill="#a3bdec" opacity="0.49"/>
<circle cx="618.9" cy="108.0" r="1.4" fill="#a3bdec" opacity="0.66"/>
<circle cx="607.4" cy="124.8" r="1.5" fill="#a3bdec" opacity="0.48"/>
<circle cx="655.0" cy="119.0" r="14.3" fill="url(#vg)"/>
<line x1="662.0" y1="124.3" x2="665.5" y2="127.0" stroke="#3a5fb0" stroke-width="1.2" stroke-linecap="round" opacity=".55"/>
<line x1="658.9" y1="126.9" x2="660.8" y2="130.9" stroke="#3a5fb0" stroke-width="1.2" stroke-linecap="round" opacity=".55"/>
<line x1="656.1" y1="127.7" x2="656.7" y2="132.1" stroke="#3a5fb0" stroke-width="1.2" stroke-linecap="round" opacity=".55"/>
<line x1="652.8" y1="127.5" x2="651.6" y2="131.8" stroke="#3a5fb0" stroke-width="1.2" stroke-linecap="round" opacity=".55"/>
<line x1="649.3" y1="125.7" x2="646.5" y2="129.1" stroke="#3a5fb0" stroke-width="1.2" stroke-linecap="round" opacity=".55"/>
<line x1="647.2" y1="123.1" x2="643.3" y2="125.1" stroke="#3a5fb0" stroke-width="1.2" stroke-linecap="round" opacity=".55"/>
<line x1="646.3" y1="120.1" x2="641.9" y2="120.6" stroke="#3a5fb0" stroke-width="1.2" stroke-linecap="round" opacity=".55"/>
<line x1="646.6" y1="116.4" x2="642.4" y2="115.1" stroke="#3a5fb0" stroke-width="1.2" stroke-linecap="round" opacity=".55"/>
<line x1="648.6" y1="112.9" x2="645.5" y2="109.9" stroke="#3a5fb0" stroke-width="1.2" stroke-linecap="round" opacity=".55"/>
<line x1="650.6" y1="111.4" x2="648.4" y2="107.6" stroke="#3a5fb0" stroke-width="1.2" stroke-linecap="round" opacity=".55"/>
<line x1="653.9" y1="110.3" x2="653.3" y2="105.9" stroke="#3a5fb0" stroke-width="1.2" stroke-linecap="round" opacity=".55"/>
<line x1="657.1" y1="110.5" x2="658.2" y2="106.2" stroke="#3a5fb0" stroke-width="1.2" stroke-linecap="round" opacity=".55"/>
<line x1="660.4" y1="112.1" x2="663.2" y2="108.6" stroke="#3a5fb0" stroke-width="1.2" stroke-linecap="round" opacity=".55"/>
<line x1="662.6" y1="114.5" x2="666.4" y2="112.3" stroke="#3a5fb0" stroke-width="1.2" stroke-linecap="round" opacity=".55"/>
<line x1="663.8" y1="119.0" x2="668.2" y2="119.0" stroke="#3a5fb0" stroke-width="1.2" stroke-linecap="round" opacity=".55"/>
<line x1="663.4" y1="121.5" x2="667.7" y2="122.7" stroke="#3a5fb0" stroke-width="1.2" stroke-linecap="round" opacity=".55"/>
<circle cx="655.0" cy="119.0" r="9.9" fill="url(#vb)"/>
<circle cx="656.2" cy="120.0" r="1.4" fill="#a3bdec" opacity="0.46"/>
<circle cx="652.3" cy="119.1" r="1.4" fill="#a3bdec" opacity="0.65"/>
<circle cx="657.5" cy="116.6" r="1.3" fill="#a3bdec" opacity="0.73"/>
<circle cx="654.8" cy="123.1" r="1.1" fill="#a3bdec" opacity="0.52"/>
<circle cx="652.0" cy="115.4" r="1.3" fill="#a3bdec" opacity="0.47"/>
<circle cx="660.1" cy="119.7" r="1.0" fill="#a3bdec" opacity="0.79"/>
<circle cx="650.4" cy="122.2" r="1.3" fill="#a3bdec" opacity="0.53"/>
<circle cx="656.4" cy="113.1" r="1.2" fill="#a3bdec" opacity="0.85"/>
<circle cx="658.1" cy="124.6" r="1.1" fill="#a3bdec" opacity="0.46"/>
<circle cx="648.6" cy="116.9" r="1.2" fill="#a3bdec" opacity="0.48"/>
<circle cx="661.5" cy="116.1" r="1.1" fill="#a3bdec" opacity="0.42"/>
<circle cx="652.1" cy="125.9" r="1.3" fill="#a3bdec" opacity="0.80"/>
<circle cx="652.4" cy="111.7" r="1.1" fill="#a3bdec" opacity="0.59"/>
<circle cx="662.1" cy="122.8" r="1.1" fill="#a3bdec" opacity="0.88"/>
<circle cx="646.9" cy="121.1" r="1.4" fill="#a3bdec" opacity="0.73"/>
<circle cx="659.8" cy="111.8" r="1.0" fill="#a3bdec" opacity="0.49"/>
<circle cx="707.5" cy="132.5" r="27.3" fill="url(#vg)"/>
<line x1="691.3" y1="127.9" x2="683.3" y2="125.6" stroke="#3a5fb0" stroke-width="2.3" stroke-linecap="round" opacity=".55"/>
<line x1="695.2" y1="121.1" x2="689.0" y2="115.4" stroke="#3a5fb0" stroke-width="2.3" stroke-linecap="round" opacity=".55"/>
<line x1="699.2" y1="117.9" x2="695.0" y2="110.6" stroke="#3a5fb0" stroke-width="2.3" stroke-linecap="round" opacity=".55"/>
<line x1="706.0" y1="115.8" x2="705.2" y2="107.4" stroke="#3a5fb0" stroke-width="2.3" stroke-linecap="round" opacity=".55"/>
<line x1="712.1" y1="116.3" x2="714.4" y2="108.3" stroke="#3a5fb0" stroke-width="2.3" stroke-linecap="round" opacity=".55"/>
<line x1="718.1" y1="119.4" x2="723.3" y2="112.9" stroke="#3a5fb0" stroke-width="2.3" stroke-linecap="round" opacity=".55"/>
<line x1="722.9" y1="125.8" x2="730.6" y2="122.5" stroke="#3a5fb0" stroke-width="2.3" stroke-linecap="round" opacity=".55"/>
<line x1="724.1" y1="129.9" x2="732.4" y2="128.6" stroke="#3a5fb0" stroke-width="2.3" stroke-linecap="round" opacity=".55"/>
<line x1="723.6" y1="137.3" x2="731.6" y2="139.7" stroke="#3a5fb0" stroke-width="2.3" stroke-linecap="round" opacity=".55"/>
<line x1="720.9" y1="142.7" x2="727.6" y2="147.7" stroke="#3a5fb0" stroke-width="2.3" stroke-linecap="round" opacity=".55"/>
<line x1="715.7" y1="147.2" x2="719.8" y2="154.5" stroke="#3a5fb0" stroke-width="2.3" stroke-linecap="round" opacity=".55"/>
<line x1="707.7" y1="149.3" x2="707.8" y2="157.7" stroke="#3a5fb0" stroke-width="2.3" stroke-linecap="round" opacity=".55"/>
<line x1="703.0" y1="148.7" x2="700.7" y2="156.8" stroke="#3a5fb0" stroke-width="2.3" stroke-linecap="round" opacity=".55"/>
<line x1="696.5" y1="145.2" x2="691.1" y2="151.6" stroke="#3a5fb0" stroke-width="2.3" stroke-linecap="round" opacity=".55"/>
<line x1="692.7" y1="140.5" x2="685.4" y2="144.5" stroke="#3a5fb0" stroke-width="2.3" stroke-linecap="round" opacity=".55"/>
<line x1="690.7" y1="133.4" x2="682.3" y2="133.9" stroke="#3a5fb0" stroke-width="2.3" stroke-linecap="round" opacity=".55"/>
<circle cx="707.5" cy="132.5" r="18.9" fill="url(#vb)"/>
<circle cx="705.5" cy="131.9" r="2.0" fill="#a3bdec" opacity="0.49"/>
<circle cx="710.8" cy="130.9" r="2.0" fill="#a3bdec" opacity="0.60"/>
<circle cx="705.7" cy="136.9" r="2.3" fill="#a3bdec" opacity="0.68"/>
<circle cx="705.5" cy="127.2" r="1.7" fill="#a3bdec" opacity="0.74"/>
<circle cx="713.2" cy="135.4" r="1.8" fill="#a3bdec" opacity="0.66"/>
<circle cx="700.7" cy="134.4" r="1.8" fill="#a3bdec" opacity="0.61"/>
<circle cx="711.6" cy="126.0" r="2.3" fill="#a3bdec" opacity="0.66"/>
<circle cx="709.0" cy="140.6" r="2.3" fill="#a3bdec" opacity="0.78"/>
<circle cx="700.5" cy="127.2" r="2.1" fill="#a3bdec" opacity="0.72"/>
<circle cx="716.8" cy="131.7" r="1.9" fill="#a3bdec" opacity="0.71"/>
<circle cx="700.9" cy="139.7" r="2.3" fill="#a3bdec" opacity="0.45"/>
<circle cx="707.5" cy="122.3" r="2.4" fill="#a3bdec" opacity="0.58"/>
<circle cx="714.7" cy="140.3" r="1.7" fill="#a3bdec" opacity="0.48"/>
<circle cx="696.5" cy="131.6" r="1.9" fill="#a3bdec" opacity="0.43"/>
<circle cx="716.6" cy="125.5" r="1.9" fill="#a3bdec" opacity="0.61"/>
<circle cx="705.5" cy="144.2" r="2.2" fill="#a3bdec" opacity="0.63"/>
<circle cx="700.9" cy="122.2" r="2.4" fill="#a3bdec" opacity="0.73"/>
<circle cx="719.7" cy="135.7" r="1.9" fill="#a3bdec" opacity="0.84"/>
<circle cx="696.0" cy="138.5" r="2.2" fill="#a3bdec" opacity="0.88"/>
<circle cx="712.0" cy="120.0" r="2.3" fill="#a3bdec" opacity="0.88"/>
<circle cx="712.8" cy="145.1" r="1.8" fill="#a3bdec" opacity="0.54"/>
<circle cx="694.8" cy="126.6" r="2.5" fill="#a3bdec" opacity="0.41"/>
<circle cx="721.1" cy="128.2" r="2.4" fill="#a3bdec" opacity="0.86"/>
<circle cx="700.2" cy="145.2" r="1.7" fill="#a3bdec" opacity="0.48"/>
<circle cx="704.2" cy="117.9" r="2.4" fill="#a3bdec" opacity="0.88"/>
<circle cx="720.0" cy="141.2" r="2.4" fill="#a3bdec" opacity="0.76"/>
<circle cx="692.1" cy="134.5" r="2.3" fill="#a3bdec" opacity="0.55"/>
<circle cx="717.7" cy="120.4" r="1.6" fill="#a3bdec" opacity="0.71"/>
<circle cx="708.2" cy="148.6" r="2.4" fill="#a3bdec" opacity="0.87"/>
<circle cx="695.9" cy="120.9" r="2.0" fill="#a3bdec" opacity="0.40"/>
<circle cx="724.1" cy="133.2" r="1.7" fill="#a3bdec" opacity="0.62"/>
<circle cx="622.5" cy="145.0" r="13.0" fill="url(#vg)"/>
<line x1="614.7" y1="143.3" x2="610.8" y2="142.5" stroke="#3a5fb0" stroke-width="1.1" stroke-linecap="round" opacity=".55"/>
<line x1="615.7" y1="140.7" x2="612.3" y2="138.6" stroke="#3a5fb0" stroke-width="1.1" stroke-linecap="round" opacity=".55"/>
<line x1="618.5" y1="138.0" x2="616.6" y2="134.6" stroke="#3a5fb0" stroke-width="1.1" stroke-linecap="round" opacity=".55"/>
<line x1="620.9" y1="137.2" x2="620.2" y2="133.2" stroke="#3a5fb0" stroke-width="1.1" stroke-linecap="round" opacity=".55"/>
<line x1="624.1" y1="137.2" x2="624.9" y2="133.3" stroke="#3a5fb0" stroke-width="1.1" stroke-linecap="round" opacity=".55"/>
<line x1="627.1" y1="138.5" x2="629.5" y2="135.2" stroke="#3a5fb0" stroke-width="1.1" stroke-linecap="round" opacity=".55"/>
<line x1="629.4" y1="141.0" x2="632.9" y2="139.0" stroke="#3a5fb0" stroke-width="1.1" stroke-linecap="round" opacity=".55"/>
<line x1="630.5" y1="144.4" x2="634.5" y2="144.2" stroke="#3a5fb0" stroke-width="1.1" stroke-linecap="round" opacity=".55"/>
<line x1="630.3" y1="146.9" x2="634.2" y2="147.8" stroke="#3a5fb0" stroke-width="1.1" stroke-linecap="round" opacity=".55"/>
<line x1="628.5" y1="150.2" x2="631.6" y2="152.9" stroke="#3a5fb0" stroke-width="1.1" stroke-linecap="round" opacity=".55"/>
<line x1="626.1" y1="152.2" x2="627.9" y2="155.7" stroke="#3a5fb0" stroke-width="1.1" stroke-linecap="round" opacity=".55"/>
<line x1="624.0" y1="152.9" x2="624.8" y2="156.8" stroke="#3a5fb0" stroke-width="1.1" stroke-linecap="round" opacity=".55"/>
<line x1="621.1" y1="152.9" x2="620.4" y2="156.8" stroke="#3a5fb0" stroke-width="1.1" stroke-linecap="round" opacity=".55"/>
<line x1="618.1" y1="151.7" x2="615.9" y2="155.0" stroke="#3a5fb0" stroke-width="1.1" stroke-linecap="round" opacity=".55"/>
<line x1="615.4" y1="148.7" x2="611.9" y2="150.6" stroke="#3a5fb0" stroke-width="1.1" stroke-linecap="round" opacity=".55"/>
<line x1="614.6" y1="146.1" x2="610.6" y2="146.6" stroke="#3a5fb0" stroke-width="1.1" stroke-linecap="round" opacity=".55"/>
<circle cx="622.5" cy="145.0" r="9.0" fill="url(#vb)"/>
<circle cx="621.1" cy="144.6" r="1.3" fill="#a3bdec" opacity="0.89"/>
<circle cx="624.7" cy="143.8" r="1.2" fill="#a3bdec" opacity="0.67"/>
<circle cx="621.4" cy="148.1" r="0.9" fill="#a3bdec" opacity="0.41"/>
<circle cx="621.0" cy="141.5" r="1.3" fill="#a3bdec" opacity="0.74"/>
<circle cx="626.5" cy="146.8" r="1.2" fill="#a3bdec" opacity="0.68"/>
<circle cx="617.9" cy="146.5" r="1.2" fill="#a3bdec" opacity="0.72"/>
<circle cx="625.1" cy="140.4" r="1.3" fill="#a3bdec" opacity="0.46"/>
<circle cx="623.8" cy="150.5" r="1.1" fill="#a3bdec" opacity="0.55"/>
<circle cx="617.5" cy="141.6" r="1.3" fill="#a3bdec" opacity="0.84"/>
<circle cx="628.8" cy="144.1" r="1.0" fill="#a3bdec" opacity="0.44"/>
<circle cx="618.3" cy="150.2" r="1.0" fill="#a3bdec" opacity="0.56"/>
<circle cx="622.1" cy="138.0" r="1.2" fill="#a3bdec" opacity="0.60"/>
<circle cx="627.7" cy="150.1" r="1.2" fill="#a3bdec" opacity="0.55"/>
<circle cx="614.9" cy="144.8" r="1.1" fill="#a3bdec" opacity="0.49"/>
<circle cx="628.4" cy="139.8" r="1.2" fill="#a3bdec" opacity="0.66"/>
<circle cx="667.5" cy="148.0" r="9.1" fill="url(#vg)"/>
<line x1="673.1" y1="148.1" x2="675.9" y2="148.1" stroke="#3a5fb0" stroke-width="1.0" stroke-linecap="round" opacity=".55"/>
<line x1="672.5" y1="150.4" x2="675.1" y2="151.7" stroke="#3a5fb0" stroke-width="1.0" stroke-linecap="round" opacity=".55"/>
<line x1="671.0" y1="152.4" x2="672.8" y2="154.5" stroke="#3a5fb0" stroke-width="1.0" stroke-linecap="round" opacity=".55"/>
<line x1="669.5" y1="153.2" x2="670.6" y2="155.8" stroke="#3a5fb0" stroke-width="1.0" stroke-linecap="round" opacity=".55"/>
<line x1="667.4" y1="153.6" x2="667.4" y2="156.4" stroke="#3a5fb0" stroke-width="1.0" stroke-linecap="round" opacity=".55"/>
<line x1="665.2" y1="153.1" x2="664.0" y2="155.6" stroke="#3a5fb0" stroke-width="1.0" stroke-linecap="round" opacity=".55"/>
<line x1="663.1" y1="151.5" x2="660.9" y2="153.2" stroke="#3a5fb0" stroke-width="1.0" stroke-linecap="round" opacity=".55"/>
<line x1="662.3" y1="150.0" x2="659.7" y2="151.1" stroke="#3a5fb0" stroke-width="1.0" stroke-linecap="round" opacity=".55"/>
<line x1="661.9" y1="147.4" x2="659.2" y2="147.0" stroke="#3a5fb0" stroke-width="1.0" stroke-linecap="round" opacity=".55"/>
<line x1="662.6" y1="145.3" x2="660.1" y2="144.0" stroke="#3a5fb0" stroke-width="1.0" stroke-linecap="round" opacity=".55"/>
<line x1="663.6" y1="144.0" x2="661.7" y2="141.9" stroke="#3a5fb0" stroke-width="1.0" stroke-linecap="round" opacity=".55"/>
<line x1="665.8" y1="142.7" x2="664.9" y2="140.0" stroke="#3a5fb0" stroke-width="1.0" stroke-linecap="round" opacity=".55"/>
<line x1="667.9" y1="142.4" x2="668.1" y2="139.6" stroke="#3a5fb0" stroke-width="1.0" stroke-linecap="round" opacity=".55"/>
<line x1="670.0" y1="143.0" x2="671.2" y2="140.5" stroke="#3a5fb0" stroke-width="1.0" stroke-linecap="round" opacity=".55"/>
<line x1="672.0" y1="144.7" x2="674.3" y2="143.1" stroke="#3a5fb0" stroke-width="1.0" stroke-linecap="round" opacity=".55"/>
<line x1="672.7" y1="145.9" x2="675.3" y2="144.9" stroke="#3a5fb0" stroke-width="1.0" stroke-linecap="round" opacity=".55"/>
<circle cx="667.5" cy="148.0" r="6.3" fill="url(#vb)"/>
<circle cx="668.7" cy="148.1" r="0.7" fill="#a3bdec" opacity="0.87"/>
<circle cx="665.8" cy="149.3" r="0.8" fill="#a3bdec" opacity="0.50"/>
<circle cx="668.0" cy="145.2" r="0.8" fill="#a3bdec" opacity="0.58"/>
<circle cx="669.3" cy="150.8" r="1.0" fill="#a3bdec" opacity="0.51"/>
<circle cx="663.9" cy="147.1" r="0.8" fill="#a3bdec" opacity="0.69"/>
<circle cx="671.2" cy="146.0" r="0.9" fill="#a3bdec" opacity="0.88"/>
<circle cx="666.0" cy="152.3" r="1.0" fill="#a3bdec" opacity="0.58"/>
<circle cx="665.6" cy="143.5" r="0.8" fill="#a3bdec" opacity="0.82"/>
<circle cx="672.2" cy="150.1" r="1.0" fill="#a3bdec" opacity="0.42"/>
<circle cx="662.3" cy="149.7" r="1.0" fill="#a3bdec" opacity="0.83"/>
<circle cx="624.0" cy="3.0" r="6.5" fill="url(#vg)"/>
<line x1="627.6" y1="4.7" x2="629.4" y2="5.6" stroke="#3a5fb0" stroke-width="1.0" stroke-linecap="round" opacity=".55"/>
<line x1="626.6" y1="6.0" x2="628.0" y2="7.5" stroke="#3a5fb0" stroke-width="1.0" stroke-linecap="round" opacity=".55"/>
<line x1="624.9" y1="6.9" x2="625.4" y2="8.8" stroke="#3a5fb0" stroke-width="1.0" stroke-linecap="round" opacity=".55"/>
<line x1="623.6" y1="7.0" x2="623.4" y2="9.0" stroke="#3a5fb0" stroke-width="1.0" stroke-linecap="round" opacity=".55"/>
<line x1="622.0" y1="6.5" x2="621.0" y2="8.2" stroke="#3a5fb0" stroke-width="1.0" stroke-linecap="round" opacity=".55"/>
<line x1="621.1" y1="5.7" x2="619.6" y2="7.1" stroke="#3a5fb0" stroke-width="1.0" stroke-linecap="round" opacity=".55"/>
<line x1="620.2" y1="4.2" x2="618.3" y2="4.8" stroke="#3a5fb0" stroke-width="1.0" stroke-linecap="round" opacity=".55"/>
<line x1="620.0" y1="2.4" x2="618.1" y2="2.1" stroke="#3a5fb0" stroke-width="1.0" stroke-linecap="round" opacity=".55"/>
<line x1="620.5" y1="1.1" x2="618.7" y2="0.2" stroke="#3a5fb0" stroke-width="1.0" stroke-linecap="round" opacity=".55"/>
<line x1="621.7" y1="-0.3" x2="620.5" y2="-1.9" stroke="#3a5fb0" stroke-width="1.0" stroke-linecap="round" opacity=".55"/>
<line x1="623.1" y1="-0.9" x2="622.6" y2="-2.8" stroke="#3a5fb0" stroke-width="1.0" stroke-linecap="round" opacity=".55"/>
<line x1="624.3" y1="-1.0" x2="624.4" y2="-3.0" stroke="#3a5fb0" stroke-width="1.0" stroke-linecap="round" opacity=".55"/>
<line x1="625.6" y1="-0.7" x2="626.4" y2="-2.5" stroke="#3a5fb0" stroke-width="1.0" stroke-linecap="round" opacity=".55"/>
<line x1="627.2" y1="0.6" x2="628.8" y2="-0.6" stroke="#3a5fb0" stroke-width="1.0" stroke-linecap="round" opacity=".55"/>
<line x1="627.7" y1="1.6" x2="629.6" y2="0.9" stroke="#3a5fb0" stroke-width="1.0" stroke-linecap="round" opacity=".55"/>
<line x1="628.0" y1="3.1" x2="630.0" y2="3.1" stroke="#3a5fb0" stroke-width="1.0" stroke-linecap="round" opacity=".55"/>
<circle cx="624.0" cy="3.0" r="4.5" fill="url(#vb)"/>
<circle cx="624.9" cy="3.5" r="0.8" fill="#a3bdec" opacity="0.82"/>
<circle cx="622.2" cy="3.5" r="0.8" fill="#a3bdec" opacity="0.88"/>
<circle cx="625.3" cy="1.0" r="0.6" fill="#a3bdec" opacity="0.44"/>
<circle cx="624.5" cy="5.8" r="0.6" fill="#a3bdec" opacity="0.89"/>
<circle cx="621.5" cy="1.0" r="0.6" fill="#a3bdec" opacity="0.48"/>
<circle cx="627.5" cy="2.7" r="0.6" fill="#a3bdec" opacity="0.42"/>
<circle cx="621.4" cy="5.8" r="0.6" fill="#a3bdec" opacity="0.58"/>
</g></g>
<rect x="0" y="36" width="1" height="13" fill="#fff" opacity=".85"/><rect x="0" y="68" width="1" height="24" fill="#fff" opacity=".85"/><rect x="0" y="117" width="1" height="16" fill="#fff" opacity=".85"/>
<rect x="399.2" y="5" width="1" height="50" fill="#a6abc0"/>
<g>
<path d="M419.7 25 Q422 22 426 20.8 L441 20.8 Q445.5 22 447.8 25 Q446.5 27.5 447.2 29.5 Q449.5 34 449.2 39 Q448.5 49 434 58.1 Q419.5 49 418 39 Q417.8 34 420.4 29.5 Q421 27.5 419.7 25 Z" fill="#f5ca10" stroke="#f6df78" stroke-width="1"/>
<path d="M428 25.6 h12.5 v4.2 h-12.5z" fill="#fbf3e2"/>
<path d="M425.5 29.6 q8.5 2.6 17 0 l-2.2 2.6 h-12.6z" fill="#4a3a14"/>
<path d="M421 33.6 h26" stroke="#cfa20c" stroke-width="1.1"/>
<path d="M434 34 v22" stroke="#c99d0a" stroke-width="1.2"/>
<circle cx="427.5" cy="41.5" r="3" fill="none" stroke="#d5a90e" stroke-width="1"/>
<circle cx="440.5" cy="41" r="2.6" fill="none" stroke="#d9ae10" stroke-width=".9"/>
<circle cx="433.6" cy="17.5" r="5.7" fill="#f6d9dc"/>
<circle cx="433.6" cy="17.5" r="3.6" fill="#e0485a"/>
<circle cx="434.5" cy="17.5" r="2.3" fill="#f6d9dc"/>
<circle cx="435" cy="17.5" r="1" fill="#e0485a"/>
</g>
<g>
<ellipse cx="486" cy="36.5" rx="20.2" ry="19.8" fill="#ea251f"/>
<path d="M470.6 31.6 A15.7 15.7 0 1 0 500.6 31.6 A15.05 15.05 0 0 1 470.6 31.6 Z" fill="#fff3f2"/>
<ellipse cx="484.9" cy="25.5" rx="3.8" ry="4" fill="none" stroke="#fbd9d6" stroke-width="1.5"/>
<path d="M485.2 29.5 V54.5" stroke="#fbd9d6" stroke-width="1.3"/>
<circle cx="487" cy="33.8" r="2.1" fill="none" stroke="#fbd9d6" stroke-width="1.2"/>
<circle cx="483.3" cy="40.7" r="2.2" fill="none" stroke="#fbd9d6" stroke-width="1.2"/>
</g>
</svg>
<div class="b" style="left:69.0px;top:180.7px;width:156.6px;height:27.5px;background:#4aaac8"></div>
<div class="b" style="left:226.6px;top:180.7px;width:439.4px;height:27.5px;background:#4aaac8"></div>
<div class="b" style="left:69.0px;top:210.8px;width:156.6px;height:28.2px;background:#d3e3ec"></div>
<div class="b" style="left:226.6px;top:210.8px;width:439.4px;height:28.2px;background:#d3e3ec"></div>
<div class="b" style="left:66.0px;top:262.7px;width:155.6px;height:27.5px;background:#4aaac8"></div>
<div class="b" style="left:222.6px;top:262.7px;width:444.4px;height:27.5px;background:#4aaac8"></div>
<div class="b" style="left:66.0px;top:292.8px;width:155.6px;height:28.2px;background:#d3e3ec"></div>
<div class="b" style="left:222.6px;top:292.8px;width:444.4px;height:28.2px;background:#d3e3ec"></div>
<div class="b" style="left:65.3px;top:347.7px;width:154.7px;height:44.3px;background:#4aaac8"></div>
<div class="b" style="left:221.4px;top:347.7px;width:447.3px;height:44.3px;background:#4aaac8"></div>
<div class="b" style="left:68.0px;top:423.7px;width:155.7px;height:34.6px;background:#4aaac8"></div>
<div class="b" style="left:225.0px;top:423.7px;width:444.0px;height:34.6px;background:#4aaac8"></div>
<svg width="720" height="960" viewBox="0 0 720 960" style="top:0;left:0">
<ellipse cx="88.75" cy="566.85" rx="77.05" ry="72.05" fill="none" stroke="#18a157" stroke-width="3"/>
<ellipse cx="323.4" cy="569.7" rx="86.1" ry="86" fill="none" stroke="#0a0a0a" stroke-width="2.3"/>
<ellipse cx="557.5" cy="567.3" rx="81.3" ry="81.1" fill="none" stroke="#0a0a0a" stroke-width="2.3"/>
<circle cx="201.6" cy="504.8" r="11.4" fill="#1fae57"/>
<path d="M175.60 527.40 A8.0 8.0 0 0 1 183.60 519.40 H219.80 A8.0 8.0 0 0 1 227.80 527.40 V564.30 A4.70 4.70 0 0 1 218.10 564.30 V541.50 A1.15 1.00 0 0 0 215.80 541.50 V622.28 A5.72 5.72 0 0 1 203.75 622.28 V573.73 A2.03 2.03 0 0 0 199.70 573.73 V622.28 A5.72 5.72 0 0 1 187.20 622.28 V541.50 A1.10 1.00 0 0 0 185.00 541.50 V564.30 A4.70 4.70 0 0 1 175.60 564.30 Z" fill="#1fae57"/>
<circle cx="437.8" cy="499.5" r="11.6" fill="#050505"/>
<path d="M412.70 522.20 A8.0 8.0 0 0 1 420.70 514.20 H455.00 A8.0 8.0 0 0 1 463.00 522.20 V561.30 A4.70 4.70 0 0 1 453.30 561.30 V537.25 A1.03 1.00 0 0 0 451.25 537.25 V621.49 A5.42 5.42 0 0 1 439.75 621.49 V571.08 A2.07 2.07 0 0 0 435.60 571.08 V621.49 A5.42 5.42 0 0 1 424.20 621.49 V537.25 A1.05 1.00 0 0 0 422.10 537.25 V561.30 A4.70 4.70 0 0 1 412.70 561.30 Z" fill="#050505"/>
<circle cx="678.3" cy="503.1" r="11.6" fill="#050505"/>
<path d="M653.30 525.80 A8.0 8.0 0 0 1 661.30 517.80 H695.30 A8.0 8.0 0 0 1 703.30 525.80 V564.90 A4.50 4.50 0 0 1 693.90 564.90 V540.70 A1.15 1.00 0 0 0 691.60 540.70 V625.09 A5.51 5.51 0 0 1 680.00 625.09 V574.08 A1.88 1.88 0 0 0 676.25 574.08 V625.09 A5.51 5.51 0 0 1 664.50 625.09 V540.70 A1.10 1.00 0 0 0 662.30 540.70 V564.90 A4.50 4.50 0 0 1 653.30 564.90 Z" fill="#050505"/>
<rect x="33.90" y="740.70" width="24.20" height="60.60" fill="#4b7fbe"/>
<rect x="59.42" y="703.20" width="24.20" height="98.10" fill="#4b7fbe"/>
<rect x="84.94" y="753.20" width="24.20" height="48.10" fill="#4b7fbe"/>
<rect x="110.46" y="728.20" width="24.20" height="73.10" fill="#4b7fbe"/>
<rect x="135.98" y="728.20" width="24.20" height="73.10" fill="#4b7fbe"/>
<rect x="161.50" y="740.70" width="24.20" height="60.60" fill="#4b7fbe"/>
<rect x="187.02" y="778.20" width="24.20" height="23.10" fill="#4b7fbe"/>
<rect x="212.54" y="753.20" width="24.20" height="48.10" fill="#4b7fbe"/>
<rect x="238.06" y="703.20" width="24.20" height="98.10" fill="#4b7fbe"/>
<rect x="263.58" y="790.70" width="24.20" height="10.60" fill="#4b7fbe"/>
<rect x="289.10" y="765.70" width="24.20" height="35.60" fill="#4b7fbe"/>
<rect x="314.62" y="740.70" width="24.20" height="60.60" fill="#4b7fbe"/>
<rect x="340.14" y="790.70" width="24.20" height="10.60" fill="#4b7fbe"/>
<rect x="365.66" y="740.70" width="24.20" height="60.60" fill="#4b7fbe"/>
<text x="21.7" y="805.4" text-anchor="middle" font-size="9.5" font-weight="700" fill="#6a6a6a">0</text>
<text x="21.7" y="792.9" text-anchor="middle" font-size="9.5" font-weight="700" fill="#6a6a6a">1</text>
<text x="21.7" y="780.4" text-anchor="middle" font-size="9.5" font-weight="700" fill="#6a6a6a">2</text>
<text x="21.7" y="768.0" text-anchor="middle" font-size="9.5" font-weight="700" fill="#6a6a6a">3</text>
<text x="21.7" y="755.5" text-anchor="middle" font-size="9.5" font-weight="700" fill="#6a6a6a">4</text>
<text x="21.7" y="743.0" text-anchor="middle" font-size="9.5" font-weight="700" fill="#6a6a6a">5</text>
<text x="21.7" y="730.5" text-anchor="middle" font-size="9.5" font-weight="700" fill="#6a6a6a">6</text>
<text x="21.7" y="718.0" text-anchor="middle" font-size="9.5" font-weight="700" fill="#6a6a6a">7</text>
<text x="21.7" y="705.6" text-anchor="middle" font-size="9.5" font-weight="700" fill="#6a6a6a">8</text>
<text x="21.7" y="693.1" text-anchor="middle" font-size="9.5" font-weight="700" fill="#6a6a6a">9</text>
<text transform="translate(13.2,745) rotate(-90)" text-anchor="middle" font-size="10.5" font-weight="700" fill="#6a6a6a" textLength="82" lengthAdjust="spacingAndGlyphs">Nombre de décès</text>
<text transform="translate(52.5,815.0) rotate(-41)" text-anchor="end" font-size="9.3" font-weight="700" fill="#666" textLength="51.5" lengthAdjust="spacingAndGlyphs">03/11/2021</text>
<text transform="translate(78.0,815.0) rotate(-41)" text-anchor="end" font-size="9.3" font-weight="700" fill="#666" textLength="51.5" lengthAdjust="spacingAndGlyphs">04/11/2021</text>
<text transform="translate(103.5,815.0) rotate(-41)" text-anchor="end" font-size="9.3" font-weight="700" fill="#666" textLength="51.5" lengthAdjust="spacingAndGlyphs">05/11/2021</text>
<text transform="translate(129.1,815.0) rotate(-41)" text-anchor="end" font-size="9.3" font-weight="700" fill="#666" textLength="51.5" lengthAdjust="spacingAndGlyphs">06/11/2021</text>
<text transform="translate(154.6,815.0) rotate(-41)" text-anchor="end" font-size="9.3" font-weight="700" fill="#666" textLength="51.5" lengthAdjust="spacingAndGlyphs">07/11/2021</text>
<text transform="translate(180.1,815.0) rotate(-41)" text-anchor="end" font-size="9.3" font-weight="700" fill="#666" textLength="51.5" lengthAdjust="spacingAndGlyphs">08/11/2021</text>
<text transform="translate(205.6,815.0) rotate(-41)" text-anchor="end" font-size="9.3" font-weight="700" fill="#666" textLength="51.5" lengthAdjust="spacingAndGlyphs">09/11/2021</text>
<text transform="translate(231.1,815.0) rotate(-41)" text-anchor="end" font-size="9.3" font-weight="700" fill="#666" textLength="51.5" lengthAdjust="spacingAndGlyphs">10/11/2021</text>
<text transform="translate(256.7,815.0) rotate(-41)" text-anchor="end" font-size="9.3" font-weight="700" fill="#666" textLength="51.5" lengthAdjust="spacingAndGlyphs">11/11/2021</text>
<text transform="translate(282.2,815.0) rotate(-41)" text-anchor="end" font-size="9.3" font-weight="700" fill="#666" textLength="51.5" lengthAdjust="spacingAndGlyphs">12/11/2021</text>
<text transform="translate(307.7,815.0) rotate(-41)" text-anchor="end" font-size="9.3" font-weight="700" fill="#666" textLength="51.5" lengthAdjust="spacingAndGlyphs">13/11/2021</text>
<text transform="translate(333.2,815.0) rotate(-41)" text-anchor="end" font-size="9.3" font-weight="700" fill="#666" textLength="51.5" lengthAdjust="spacingAndGlyphs">14/11/2021</text>
<text transform="translate(358.7,815.0) rotate(-41)" text-anchor="end" font-size="9.3" font-weight="700" fill="#666" textLength="51.5" lengthAdjust="spacingAndGlyphs">15/11/2021</text>
<text transform="translate(384.3,815.0) rotate(-41)" text-anchor="end" font-size="9.3" font-weight="700" fill="#666" textLength="51.5" lengthAdjust="spacingAndGlyphs">16/11/2021</text>
<rect x="430" y="829" width="290" height="1" fill="#d4d4d4"/>
<rect x="519" y="685" width="118.5" height="144.3" fill="#4b7fbe"/>
<text transform="translate(425,742.5) rotate(-90)" text-anchor="middle" font-size="11.5" font-weight="400" fill="#666" textLength="150" lengthAdjust="spacingAndGlyphs">Nombre de nouveaux décès</text>
</svg>
<div class="t" id="h1" dir="rtl" style="right:331.20px;top:11.40px;font-size:12.30px;color:#c9cbd6;font-weight:400;transform:scaleX(0.9808);">الجمهورية التونسية</div>
<div class="t" id="h2" dir="rtl" style="right:330.20px;top:30.80px;font-size:12.30px;color:#c9cbd6;font-weight:400;transform:scaleX(1.0886);">وزارة الصحة</div>
<div class="t s" id="t1" dir="rtl" style="right:274.00px;top:72.70px;font-size:17.00px;color:#ffffff;font-weight:700;transform:scaleX(0.7690);">لوحة معلومات كوفيد  <span class="d" dir="ltr" style="font-size:18.3px;width:26.47px;transform:scaleX(1.3004)">19</span></div>
<div class="t s" id="t2" dir="rtl" style="right:115.20px;top:94.90px;font-size:17.00px;color:#ffffff;font-weight:700;transform:scaleX(0.7775);">الأرقام الخاصة بالتقصي وعدد الوفيات المبلغ عنها بتاريخ  <span class="d" dir="ltr" style="font-size:18.3px;width:26.18px;transform:scaleX(1.2862)">16</span>نوفمبر <span class="d" dir="ltr" style="font-size:18.3px;width:52.37px;transform:scaleX(1.2862)">2021</span></div>
<div class="t s" id="t3" dir="rtl" style="right:284.40px;top:117.70px;font-size:17.00px;color:#ffffff;font-weight:700;transform:scaleX(0.7481);">إلى حدود منتصف الليل</div>
<div class="t s" id="r1" dir="rtl" style="right:60.20px;top:181.20px;font-size:15.30px;color:#111111;font-weight:700;transform:scaleX(0.7717);">عدد التحاليل المنجزة ليوم  <span class="d" dir="ltr" style="font-size:16.5px;width:23.78px;transform:scaleX(1.2958)">16</span> نوفمبر <span class="d" dir="ltr" style="font-size:16.5px;width:47.57px;transform:scaleX(1.2958)">2021</span></div>
<div class="t s" id="r2" dir="rtl" style="right:61.20px;top:211.00px;font-size:15.30px;color:#111111;font-weight:700;transform:scaleX(0.7315);">العدد الجملي للتحاليل المنجزة</div>
<div class="t s" id="r3" dir="rtl" style="right:59.80px;top:263.60px;font-size:15.30px;color:#111111;font-weight:700;transform:scaleX(0.7794);">عدد التحاليل الإيجابية ليوم  <span class="d" dir="ltr" style="font-size:16.5px;width:23.55px;transform:scaleX(1.2830)">16</span> نوفمبر <span class="d" dir="ltr" style="font-size:16.5px;width:47.10px;transform:scaleX(1.2830)">2021</span></div>
<div class="t s" id="r4" dir="rtl" style="right:59.00px;top:292.80px;font-size:15.30px;color:#111111;font-weight:700;transform:scaleX(0.7460);">العدد الجملي للتحاليل الإيجابية</div>
<div class="t s" id="r5" dir="rtl" style="right:57.00px;top:349.40px;font-size:15.30px;color:#111111;font-weight:700;transform:scaleX(0.7662);">نسبة التحاليل الايجابية ليوم <span class="d" dir="ltr" style="font-size:16.5px;width:23.96px;transform:scaleX(1.3051)">16</span> نوفمبر <span class="d" dir="ltr" style="font-size:16.5px;width:47.91px;transform:scaleX(1.3051)">2021</span></div>
<div class="t s" id="r6" dir="rtl" style="right:57.00px;top:423.80px;font-size:15.30px;color:#111111;font-weight:700;transform:scaleX(0.7027);">عدد للمتعافين ليوم <span class="d" dir="ltr" style="font-size:16.5px;width:26.12px;transform:scaleX(1.4231)">16</span> نوفمبر <span class="d" dir="ltr" style="font-size:16.5px;width:52.24px;transform:scaleX(1.4231)">2021</span></div>
<div class="t s" id="n1" dir="ltr" style="right:602.20px;top:182.80px;font-size:20.00px;color:#a5142a;font-weight:700;transform:scaleX(0.9411);">3065</div>
<div class="t s" id="n2" dir="ltr" style="right:570.00px;top:213.00px;font-size:20.00px;color:#a5142a;font-weight:700;transform:scaleX(0.9504);">3131572</div>
<div class="t s" id="n3" dir="ltr" style="right:626.20px;top:266.00px;font-size:20.00px;color:#a5142a;font-weight:700;transform:scaleX(0.9745);">93</div>
<div class="t" id="n4" dir="ltr" style="right:584.00px;top:295.80px;font-size:20.00px;color:#a5142a;font-weight:400;transform:scaleX(0.9810);">715911</div>
<div class="t s" id="n5" dir="ltr" style="right:596.20px;top:349.70px;font-size:20.00px;color:#a5142a;font-weight:700;transform:scaleX(0.9107);">3,03%</div>
<div class="t s" id="n6" dir="ltr" style="right:624.00px;top:426.20px;font-size:20.00px;color:#a5142a;font-weight:700;transform:scaleX(0.9627);">66</div>
<div class="t s" id="c1" dir="rtl" style="right:570.20px;top:528.10px;font-size:15.00px;color:#111111;font-weight:700;transform:scaleX(0.7229);">العدد الجملي للمتعافين</div>
<div class="t s" id="c1n" dir="ltr" style="right:599.00px;top:552.20px;font-size:20.00px;color:#e0161f;font-weight:700;transform:scaleX(0.9580);">689705</div>
<div class="t s" id="c2" dir="rtl" style="right:342.80px;top:532.30px;font-size:15.00px;color:#111111;font-weight:700;transform:scaleX(0.7451);">العدد الجملي للوفيات</div>
<div class="t s" id="c2n" dir="ltr" style="right:373.00px;top:555.80px;font-size:20.00px;color:#e0161f;font-weight:700;transform:scaleX(0.9601);">25325</div>
<div class="t s" id="c3a" dir="rtl" style="right:101.60px;top:519.70px;font-size:15.00px;color:#111111;font-weight:700;transform:scaleX(0.7918);">عدد الوفيات المصرح</div>
<div class="t s" id="c3b" dir="rtl" style="right:108.00px;top:540.40px;font-size:15.30px;color:#111111;font-weight:700;transform:scaleX(0.7905);">بها أوليا ليوم <span class="d" dir="ltr" style="font-size:16.5px;width:23.22px;transform:scaleX(1.2650)">16</span></div>
<div class="t s" id="c3c" dir="rtl" style="right:117.20px;top:561.20px;font-size:15.30px;color:#111111;font-weight:700;transform:scaleX(0.8062);">نوفمبر  <span class="d" dir="ltr" style="font-size:16.5px;width:45.53px;transform:scaleX(1.2404)">2021</span></div>
<div class="t s" id="c3n" dir="ltr" style="right:149.80px;top:582.30px;font-size:17.50px;color:#e0161f;font-weight:700;">05</div>
<div class="t s" id="k1a" dir="rtl" style="right:371.00px;top:865.30px;font-size:11.30px;color:#cc1f2a;font-weight:700;transform:scaleX(0.8402);">توزيع عدد الوفيات المصرح عنها حسب تاريخ الوفاة خلال ال<span class="d" dir="ltr" style="font-size:13.6px;width:18.01px;transform:scaleX(1.1902)">14</span> يوما</div>
<div class="t s" id="k1b" dir="rtl" style="right:450.00px;top:883.10px;font-size:11.30px;color:#cc1f2a;font-weight:700;transform:scaleX(0.8433);">الأخيرة ( <span class="d" dir="ltr" style="font-size:13.6px;width:17.94px;transform:scaleX(1.1858)">03</span>– <span class="d" dir="ltr" style="font-size:13.6px;width:17.94px;transform:scaleX(1.1858)">16</span> نوفمبر<span class="d" dir="ltr" style="font-size:13.6px;width:35.88px;transform:scaleX(1.1858)">2021</span></div>
<div class="t s" id="k2a" dir="rtl" style="right:9.20px;top:865.50px;font-size:11.30px;color:#cc1f2a;font-weight:700;transform:scaleX(0.8518);">توزيع عدد الوفيات المصرح عنها يوم <span class="d" dir="ltr" style="font-size:13.6px;width:17.76px;transform:scaleX(1.1740)">16</span>نوفمبر <span class="d" dir="ltr" style="font-size:13.6px;width:35.52px;transform:scaleX(1.1740)">2021</span> حسب تاريخ</div>
<div class="t s" id="k2b" dir="rtl" style="right:149.20px;top:881.00px;font-size:11.30px;color:#cc1f2a;font-weight:700;transform:scaleX(0.7500);">الوفاة</div>
<div class="t s2" id="f1" dir="rtl" style="right:19.00px;top:913.00px;font-size:9.50px;color:#111111;font-weight:700;transform:scaleX(0.7961);">عدد الوفيات الذي يتم نشره يوميا يمثل عدد الوفيات المبلغ عنها في اليوم ذاته ويشمل الوفيات التي حدثت في <span class="d" dir="ltr" style="font-size:9.5px;width:13.27px;transform:scaleX(1.2561)">24</span>ساعة الماضية المبلغ عنها في نفس اليوم. مع العلم انه يقع تحديث بيانات الأيام</div>
<div class="t s2" id="f2" dir="rtl" style="right:254.00px;top:927.50px;font-size:9.50px;color:#111111;font-weight:700;transform:scaleX(0.7906);">والأسابيع السابقة عبر الرسوم البيانية المرفقة للبلاغ اليومي.</div>
<div class="t s" id="ct" dir="ltr" style="right:394.00px;top:657.50px;font-size:12.00px;color:#505050;font-weight:700;transform:scaleX(0.9843);">03 Novembre - 16 Novembre 2021</div>
<div class="t" id="cx1" dir="ltr" style="right:476.00px;top:850.00px;font-size:10.00px;color:#595959;font-weight:700;transform:scaleX(1.0002);">Date de décès</div>
<div class="t" id="cx2" dir="ltr" style="right:108.00px;top:849.00px;font-size:10.00px;color:#595959;font-weight:700;transform:scaleX(1.0002);">Date de décès</div>
<div class="t" id="cd" dir="ltr" style="right:116.00px;top:832.00px;font-size:10.00px;color:#666666;font-weight:700;transform:scaleX(1.0412);">16/11/2021</div>
<div class="t s" id="c5" dir="ltr" style="right:136.80px;top:657.90px;font-size:17.50px;color:#404040;font-weight:700;transform:scaleX(0.9000);">5</div>
</body>
</html>
